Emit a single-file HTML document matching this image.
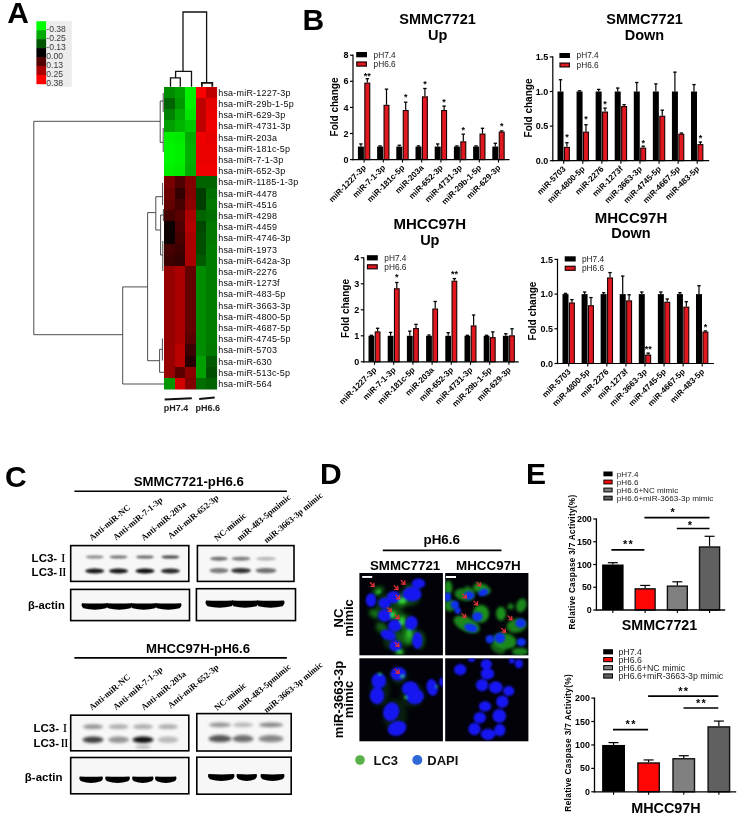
<!DOCTYPE html>
<html lang="en"><head><meta charset="utf-8"><title>Figure</title>
<style>
html,body{margin:0;padding:0;background:#fff;}
body{width:742px;height:824px;overflow:hidden;}
svg{display:block;font-family:"Liberation Sans", Arial, sans-serif;filter:blur(0.35px);}
</style></head><body>
<svg width="742" height="824" viewBox="0 0 742 824">
<defs>
<filter id="b04" x="-5%" y="-5%" width="110%" height="110%"><feGaussianBlur stdDeviation="0.45"/></filter>
<filter id="b05" x="-50%" y="-50%" width="200%" height="200%"><feGaussianBlur stdDeviation="0.65"/></filter>
<filter id="b07" x="-30%" y="-100%" width="160%" height="300%"><feGaussianBlur stdDeviation="0.7"/></filter>
<filter id="b1" x="-30%" y="-150%" width="160%" height="400%"><feGaussianBlur stdDeviation="1.1"/></filter>
<filter id="b15" x="-30%" y="-150%" width="160%" height="400%"><feGaussianBlur stdDeviation="1.5"/></filter>
<filter id="b12" x="-10%" y="-10%" width="120%" height="120%"><feGaussianBlur stdDeviation="1.1"/></filter>
<filter id="b18" x="-20%" y="-20%" width="140%" height="140%"><feGaussianBlur stdDeviation="1.7"/></filter>
<filter id="b25" x="-20%" y="-20%" width="140%" height="140%"><feGaussianBlur stdDeviation="2.2"/></filter>
<clipPath id="cHM"><rect x="164" y="86.6" width="53.1" height="302.8"/></clipPath>
<clipPath id="cTL"><rect x="359.4" y="573" width="83.5" height="82.3"/></clipPath>
<clipPath id="cTR"><rect x="445.2" y="573" width="83.2" height="82.3"/></clipPath>
<clipPath id="cBL"><rect x="359.4" y="658.3" width="83.5" height="83"/></clipPath>
<clipPath id="cBR"><rect x="445.2" y="658.3" width="83.2" height="83"/></clipPath>
<clipPath id="cC1"><rect x="71.4" y="546.3" width="116.7" height="34.4"/><rect x="198.1" y="546.3" width="95.2" height="34.4"/><rect x="71.4" y="590.1" width="117.4" height="29.8"/><rect x="197.1" y="589.4" width="97.7" height="30.5"/></clipPath>
<clipPath id="cC2"><rect x="71.4" y="715.9" width="116.7" height="34.2"/><rect x="197.5" y="714.3" width="93" height="36"/><rect x="71.4" y="758.2" width="116.7" height="34.9"/><rect x="197.5" y="757.9" width="93" height="35.6"/></clipPath>
</defs>
<rect width="742" height="824" fill="#fff"/>
<g id="panelA">
<text x="7.20" y="23.30" font-size="30" font-weight="bold" text-anchor="start" fill="#000">A</text>
<rect x="46.10" y="21.20" width="25.70" height="65.70" fill="#ececec"/>
<rect x="36.40" y="21.20" width="9.70" height="9.26" fill="#00ff00"/>
<rect x="36.40" y="30.16" width="9.70" height="9.26" fill="#00aa00"/>
<rect x="36.40" y="39.12" width="9.70" height="9.26" fill="#005500"/>
<rect x="36.40" y="48.08" width="9.70" height="9.26" fill="#000000"/>
<rect x="36.40" y="57.04" width="9.70" height="9.26" fill="#550000"/>
<rect x="36.40" y="66.00" width="9.70" height="9.26" fill="#aa0000"/>
<rect x="36.40" y="74.96" width="9.70" height="9.26" fill="#ff0000"/>
<text x="46.30" y="32.30" font-size="8.6" font-weight="normal" text-anchor="start" fill="#3a3a3a">-0.38</text>
<text x="46.30" y="41.30" font-size="8.6" font-weight="normal" text-anchor="start" fill="#3a3a3a">-0.25</text>
<text x="46.30" y="50.30" font-size="8.6" font-weight="normal" text-anchor="start" fill="#3a3a3a">-0.13</text>
<text x="46.30" y="59.30" font-size="8.6" font-weight="normal" text-anchor="start" fill="#3a3a3a">0.00</text>
<text x="46.30" y="68.30" font-size="8.6" font-weight="normal" text-anchor="start" fill="#3a3a3a">0.13</text>
<text x="46.30" y="77.30" font-size="8.6" font-weight="normal" text-anchor="start" fill="#3a3a3a">0.25</text>
<text x="46.30" y="86.30" font-size="8.6" font-weight="normal" text-anchor="start" fill="#3a3a3a">0.38</text>
<g clip-path="url(#cHM)"><g filter="url(#b04)" shape-rendering="crispEdges">
<rect x="164.20" y="86.80" width="11.36" height="12.00" fill="rgb(0,140,0)"/>
<rect x="174.76" y="86.80" width="11.36" height="12.00" fill="rgb(0,160,0)"/>
<rect x="185.32" y="86.80" width="11.36" height="12.00" fill="rgb(0,240,0)"/>
<rect x="195.88" y="86.80" width="11.36" height="12.00" fill="rgb(250,0,0)"/>
<rect x="206.44" y="86.80" width="11.36" height="12.00" fill="rgb(190,0,0)"/>
<rect x="164.20" y="98.00" width="11.36" height="12.00" fill="rgb(0,100,0)"/>
<rect x="174.76" y="98.00" width="11.36" height="12.00" fill="rgb(0,150,0)"/>
<rect x="185.32" y="98.00" width="11.36" height="12.00" fill="rgb(0,240,0)"/>
<rect x="195.88" y="98.00" width="11.36" height="12.00" fill="rgb(190,0,0)"/>
<rect x="206.44" y="98.00" width="11.36" height="12.00" fill="rgb(230,0,0)"/>
<rect x="164.20" y="109.21" width="11.36" height="12.00" fill="rgb(0,130,0)"/>
<rect x="174.76" y="109.21" width="11.36" height="12.00" fill="rgb(0,170,0)"/>
<rect x="185.32" y="109.21" width="11.36" height="12.00" fill="rgb(0,230,0)"/>
<rect x="195.88" y="109.21" width="11.36" height="12.00" fill="rgb(190,0,0)"/>
<rect x="206.44" y="109.21" width="11.36" height="12.00" fill="rgb(235,0,0)"/>
<rect x="164.20" y="120.41" width="11.36" height="12.00" fill="rgb(0,160,0)"/>
<rect x="174.76" y="120.41" width="11.36" height="12.00" fill="rgb(0,180,0)"/>
<rect x="185.32" y="120.41" width="11.36" height="12.00" fill="rgb(0,200,0)"/>
<rect x="195.88" y="120.41" width="11.36" height="12.00" fill="rgb(190,0,0)"/>
<rect x="206.44" y="120.41" width="11.36" height="12.00" fill="rgb(240,0,0)"/>
<rect x="164.20" y="131.62" width="11.36" height="12.00" fill="rgb(0,240,0)"/>
<rect x="174.76" y="131.62" width="11.36" height="12.00" fill="rgb(0,235,0)"/>
<rect x="185.32" y="131.62" width="11.36" height="12.00" fill="rgb(0,170,0)"/>
<rect x="195.88" y="131.62" width="11.36" height="12.00" fill="rgb(240,0,0)"/>
<rect x="206.44" y="131.62" width="11.36" height="12.00" fill="rgb(230,0,0)"/>
<rect x="164.20" y="142.82" width="11.36" height="12.00" fill="rgb(0,245,0)"/>
<rect x="174.76" y="142.82" width="11.36" height="12.00" fill="rgb(0,240,0)"/>
<rect x="185.32" y="142.82" width="11.36" height="12.00" fill="rgb(0,175,0)"/>
<rect x="195.88" y="142.82" width="11.36" height="12.00" fill="rgb(235,0,0)"/>
<rect x="206.44" y="142.82" width="11.36" height="12.00" fill="rgb(235,0,0)"/>
<rect x="164.20" y="154.02" width="11.36" height="12.00" fill="rgb(0,245,0)"/>
<rect x="174.76" y="154.02" width="11.36" height="12.00" fill="rgb(0,240,0)"/>
<rect x="185.32" y="154.02" width="11.36" height="12.00" fill="rgb(0,175,0)"/>
<rect x="195.88" y="154.02" width="11.36" height="12.00" fill="rgb(235,0,0)"/>
<rect x="206.44" y="154.02" width="11.36" height="12.00" fill="rgb(235,0,0)"/>
<rect x="164.20" y="165.23" width="11.36" height="12.00" fill="rgb(0,240,0)"/>
<rect x="174.76" y="165.23" width="11.36" height="12.00" fill="rgb(0,235,0)"/>
<rect x="185.32" y="165.23" width="11.36" height="12.00" fill="rgb(0,170,0)"/>
<rect x="195.88" y="165.23" width="11.36" height="12.00" fill="rgb(240,0,0)"/>
<rect x="206.44" y="165.23" width="11.36" height="12.00" fill="rgb(240,0,0)"/>
<rect x="164.20" y="176.43" width="11.36" height="12.00" fill="rgb(120,0,0)"/>
<rect x="174.76" y="176.43" width="11.36" height="12.00" fill="rgb(80,0,0)"/>
<rect x="185.32" y="176.43" width="11.36" height="12.00" fill="rgb(130,0,0)"/>
<rect x="195.88" y="176.43" width="11.36" height="12.00" fill="rgb(0,100,0)"/>
<rect x="206.44" y="176.43" width="11.36" height="12.00" fill="rgb(0,100,0)"/>
<rect x="164.20" y="187.64" width="11.36" height="12.00" fill="rgb(110,0,0)"/>
<rect x="174.76" y="187.64" width="11.36" height="12.00" fill="rgb(50,0,0)"/>
<rect x="185.32" y="187.64" width="11.36" height="12.00" fill="rgb(130,0,0)"/>
<rect x="195.88" y="187.64" width="11.36" height="12.00" fill="rgb(0,60,0)"/>
<rect x="206.44" y="187.64" width="11.36" height="12.00" fill="rgb(0,110,0)"/>
<rect x="164.20" y="198.84" width="11.36" height="12.00" fill="rgb(100,0,0)"/>
<rect x="174.76" y="198.84" width="11.36" height="12.00" fill="rgb(70,0,0)"/>
<rect x="185.32" y="198.84" width="11.36" height="12.00" fill="rgb(140,0,0)"/>
<rect x="195.88" y="198.84" width="11.36" height="12.00" fill="rgb(0,60,0)"/>
<rect x="206.44" y="198.84" width="11.36" height="12.00" fill="rgb(0,120,0)"/>
<rect x="164.20" y="210.04" width="11.36" height="12.00" fill="rgb(70,0,0)"/>
<rect x="174.76" y="210.04" width="11.36" height="12.00" fill="rgb(90,0,0)"/>
<rect x="185.32" y="210.04" width="11.36" height="12.00" fill="rgb(170,0,0)"/>
<rect x="195.88" y="210.04" width="11.36" height="12.00" fill="rgb(0,100,0)"/>
<rect x="206.44" y="210.04" width="11.36" height="12.00" fill="rgb(0,110,0)"/>
<rect x="164.20" y="221.25" width="11.36" height="12.00" fill="rgb(12,0,0)"/>
<rect x="174.76" y="221.25" width="11.36" height="12.00" fill="rgb(80,0,0)"/>
<rect x="185.32" y="221.25" width="11.36" height="12.00" fill="rgb(180,0,0)"/>
<rect x="195.88" y="221.25" width="11.36" height="12.00" fill="rgb(0,70,0)"/>
<rect x="206.44" y="221.25" width="11.36" height="12.00" fill="rgb(0,120,0)"/>
<rect x="164.20" y="232.45" width="11.36" height="12.00" fill="rgb(8,0,0)"/>
<rect x="174.76" y="232.45" width="11.36" height="12.00" fill="rgb(70,0,0)"/>
<rect x="185.32" y="232.45" width="11.36" height="12.00" fill="rgb(170,0,0)"/>
<rect x="195.88" y="232.45" width="11.36" height="12.00" fill="rgb(0,80,0)"/>
<rect x="206.44" y="232.45" width="11.36" height="12.00" fill="rgb(0,120,0)"/>
<rect x="164.20" y="243.66" width="11.36" height="12.00" fill="rgb(70,0,0)"/>
<rect x="174.76" y="243.66" width="11.36" height="12.00" fill="rgb(60,0,0)"/>
<rect x="185.32" y="243.66" width="11.36" height="12.00" fill="rgb(170,0,0)"/>
<rect x="195.88" y="243.66" width="11.36" height="12.00" fill="rgb(0,80,0)"/>
<rect x="206.44" y="243.66" width="11.36" height="12.00" fill="rgb(0,125,0)"/>
<rect x="164.20" y="254.86" width="11.36" height="12.00" fill="rgb(60,0,0)"/>
<rect x="174.76" y="254.86" width="11.36" height="12.00" fill="rgb(50,0,0)"/>
<rect x="185.32" y="254.86" width="11.36" height="12.00" fill="rgb(170,0,0)"/>
<rect x="195.88" y="254.86" width="11.36" height="12.00" fill="rgb(0,90,0)"/>
<rect x="206.44" y="254.86" width="11.36" height="12.00" fill="rgb(0,125,0)"/>
<rect x="164.20" y="266.06" width="11.36" height="12.00" fill="rgb(150,0,0)"/>
<rect x="174.76" y="266.06" width="11.36" height="12.00" fill="rgb(170,0,0)"/>
<rect x="185.32" y="266.06" width="11.36" height="12.00" fill="rgb(100,0,0)"/>
<rect x="195.88" y="266.06" width="11.36" height="12.00" fill="rgb(0,140,0)"/>
<rect x="206.44" y="266.06" width="11.36" height="12.00" fill="rgb(0,125,0)"/>
<rect x="164.20" y="277.27" width="11.36" height="12.00" fill="rgb(150,0,0)"/>
<rect x="174.76" y="277.27" width="11.36" height="12.00" fill="rgb(170,0,0)"/>
<rect x="185.32" y="277.27" width="11.36" height="12.00" fill="rgb(100,0,0)"/>
<rect x="195.88" y="277.27" width="11.36" height="12.00" fill="rgb(0,140,0)"/>
<rect x="206.44" y="277.27" width="11.36" height="12.00" fill="rgb(0,125,0)"/>
<rect x="164.20" y="288.47" width="11.36" height="12.00" fill="rgb(150,0,0)"/>
<rect x="174.76" y="288.47" width="11.36" height="12.00" fill="rgb(170,0,0)"/>
<rect x="185.32" y="288.47" width="11.36" height="12.00" fill="rgb(100,0,0)"/>
<rect x="195.88" y="288.47" width="11.36" height="12.00" fill="rgb(0,140,0)"/>
<rect x="206.44" y="288.47" width="11.36" height="12.00" fill="rgb(0,125,0)"/>
<rect x="164.20" y="299.68" width="11.36" height="12.00" fill="rgb(150,0,0)"/>
<rect x="174.76" y="299.68" width="11.36" height="12.00" fill="rgb(170,0,0)"/>
<rect x="185.32" y="299.68" width="11.36" height="12.00" fill="rgb(100,0,0)"/>
<rect x="195.88" y="299.68" width="11.36" height="12.00" fill="rgb(0,140,0)"/>
<rect x="206.44" y="299.68" width="11.36" height="12.00" fill="rgb(0,125,0)"/>
<rect x="164.20" y="310.88" width="11.36" height="12.00" fill="rgb(150,0,0)"/>
<rect x="174.76" y="310.88" width="11.36" height="12.00" fill="rgb(170,0,0)"/>
<rect x="185.32" y="310.88" width="11.36" height="12.00" fill="rgb(100,0,0)"/>
<rect x="195.88" y="310.88" width="11.36" height="12.00" fill="rgb(0,140,0)"/>
<rect x="206.44" y="310.88" width="11.36" height="12.00" fill="rgb(0,125,0)"/>
<rect x="164.20" y="322.08" width="11.36" height="12.00" fill="rgb(150,0,0)"/>
<rect x="174.76" y="322.08" width="11.36" height="12.00" fill="rgb(170,0,0)"/>
<rect x="185.32" y="322.08" width="11.36" height="12.00" fill="rgb(100,0,0)"/>
<rect x="195.88" y="322.08" width="11.36" height="12.00" fill="rgb(0,140,0)"/>
<rect x="206.44" y="322.08" width="11.36" height="12.00" fill="rgb(0,125,0)"/>
<rect x="164.20" y="333.29" width="11.36" height="12.00" fill="rgb(150,0,0)"/>
<rect x="174.76" y="333.29" width="11.36" height="12.00" fill="rgb(170,0,0)"/>
<rect x="185.32" y="333.29" width="11.36" height="12.00" fill="rgb(90,0,0)"/>
<rect x="195.88" y="333.29" width="11.36" height="12.00" fill="rgb(0,140,0)"/>
<rect x="206.44" y="333.29" width="11.36" height="12.00" fill="rgb(0,125,0)"/>
<rect x="164.20" y="344.49" width="11.36" height="12.00" fill="rgb(150,0,0)"/>
<rect x="174.76" y="344.49" width="11.36" height="12.00" fill="rgb(185,0,0)"/>
<rect x="185.32" y="344.49" width="11.36" height="12.00" fill="rgb(60,0,0)"/>
<rect x="195.88" y="344.49" width="11.36" height="12.00" fill="rgb(0,140,0)"/>
<rect x="206.44" y="344.49" width="11.36" height="12.00" fill="rgb(0,120,0)"/>
<rect x="164.20" y="355.70" width="11.36" height="12.00" fill="rgb(150,0,0)"/>
<rect x="174.76" y="355.70" width="11.36" height="12.00" fill="rgb(185,0,0)"/>
<rect x="185.32" y="355.70" width="11.36" height="12.00" fill="rgb(40,0,0)"/>
<rect x="195.88" y="355.70" width="11.36" height="12.00" fill="rgb(0,160,0)"/>
<rect x="206.44" y="355.70" width="11.36" height="12.00" fill="rgb(0,90,0)"/>
<rect x="164.20" y="366.90" width="11.36" height="12.00" fill="rgb(150,0,0)"/>
<rect x="174.76" y="366.90" width="11.36" height="12.00" fill="rgb(90,0,0)"/>
<rect x="185.32" y="366.90" width="11.36" height="12.00" fill="rgb(140,0,0)"/>
<rect x="195.88" y="366.90" width="11.36" height="12.00" fill="rgb(0,160,0)"/>
<rect x="206.44" y="366.90" width="11.36" height="12.00" fill="rgb(0,80,0)"/>
<rect x="164.20" y="378.10" width="11.36" height="12.00" fill="rgb(0,150,0)"/>
<rect x="174.76" y="378.10" width="11.36" height="12.00" fill="rgb(210,0,0)"/>
<rect x="185.32" y="378.10" width="11.36" height="12.00" fill="rgb(130,0,0)"/>
<rect x="195.88" y="378.10" width="11.36" height="12.00" fill="rgb(0,110,0)"/>
<rect x="206.44" y="378.10" width="11.36" height="12.00" fill="rgb(0,100,0)"/>
</g></g>
<text x="218.20" y="95.70" font-size="9" font-weight="normal" text-anchor="start" fill="#0a0a0a" letter-spacing="0.2">hsa-miR-1227-3p</text>
<text x="218.20" y="106.90" font-size="9" font-weight="normal" text-anchor="start" fill="#0a0a0a" letter-spacing="0.2">hsa-miR-29b-1-5p</text>
<text x="218.20" y="118.11" font-size="9" font-weight="normal" text-anchor="start" fill="#0a0a0a" letter-spacing="0.2">hsa-miR-629-3p</text>
<text x="218.20" y="129.31" font-size="9" font-weight="normal" text-anchor="start" fill="#0a0a0a" letter-spacing="0.2">hsa-miR-4731-3p</text>
<text x="218.20" y="140.52" font-size="9" font-weight="normal" text-anchor="start" fill="#0a0a0a" letter-spacing="0.2">hsa-miR-203a</text>
<text x="218.20" y="151.72" font-size="9" font-weight="normal" text-anchor="start" fill="#0a0a0a" letter-spacing="0.2">hsa-miR-181c-5p</text>
<text x="218.20" y="162.92" font-size="9" font-weight="normal" text-anchor="start" fill="#0a0a0a" letter-spacing="0.2">hsa-miR-7-1-3p</text>
<text x="218.20" y="174.13" font-size="9" font-weight="normal" text-anchor="start" fill="#0a0a0a" letter-spacing="0.2">hsa-miR-652-3p</text>
<text x="218.20" y="185.33" font-size="9" font-weight="normal" text-anchor="start" fill="#0a0a0a" letter-spacing="0.2">hsa-miR-1185-1-3p</text>
<text x="218.20" y="196.54" font-size="9" font-weight="normal" text-anchor="start" fill="#0a0a0a" letter-spacing="0.2">hsa-miR-4478</text>
<text x="218.20" y="207.74" font-size="9" font-weight="normal" text-anchor="start" fill="#0a0a0a" letter-spacing="0.2">hsa-miR-4516</text>
<text x="218.20" y="218.94" font-size="9" font-weight="normal" text-anchor="start" fill="#0a0a0a" letter-spacing="0.2">hsa-miR-4298</text>
<text x="218.20" y="230.15" font-size="9" font-weight="normal" text-anchor="start" fill="#0a0a0a" letter-spacing="0.2">hsa-miR-4459</text>
<text x="218.20" y="241.35" font-size="9" font-weight="normal" text-anchor="start" fill="#0a0a0a" letter-spacing="0.2">hsa-miR-4746-3p</text>
<text x="218.20" y="252.56" font-size="9" font-weight="normal" text-anchor="start" fill="#0a0a0a" letter-spacing="0.2">hsa-miR-1973</text>
<text x="218.20" y="263.76" font-size="9" font-weight="normal" text-anchor="start" fill="#0a0a0a" letter-spacing="0.2">hsa-miR-642a-3p</text>
<text x="218.20" y="274.96" font-size="9" font-weight="normal" text-anchor="start" fill="#0a0a0a" letter-spacing="0.2">hsa-miR-2276</text>
<text x="218.20" y="286.17" font-size="9" font-weight="normal" text-anchor="start" fill="#0a0a0a" letter-spacing="0.2">hsa-miR-1273f</text>
<text x="218.20" y="297.37" font-size="9" font-weight="normal" text-anchor="start" fill="#0a0a0a" letter-spacing="0.2">hsa-miR-483-5p</text>
<text x="218.20" y="308.58" font-size="9" font-weight="normal" text-anchor="start" fill="#0a0a0a" letter-spacing="0.2">hsa-miR-3663-3p</text>
<text x="218.20" y="319.78" font-size="9" font-weight="normal" text-anchor="start" fill="#0a0a0a" letter-spacing="0.2">hsa-miR-4800-5p</text>
<text x="218.20" y="330.98" font-size="9" font-weight="normal" text-anchor="start" fill="#0a0a0a" letter-spacing="0.2">hsa-miR-4687-5p</text>
<text x="218.20" y="342.19" font-size="9" font-weight="normal" text-anchor="start" fill="#0a0a0a" letter-spacing="0.2">hsa-miR-4745-5p</text>
<text x="218.20" y="353.39" font-size="9" font-weight="normal" text-anchor="start" fill="#0a0a0a" letter-spacing="0.2">hsa-miR-5703</text>
<text x="218.20" y="364.60" font-size="9" font-weight="normal" text-anchor="start" fill="#0a0a0a" letter-spacing="0.2">hsa-miR-630</text>
<text x="218.20" y="375.80" font-size="9" font-weight="normal" text-anchor="start" fill="#0a0a0a" letter-spacing="0.2">hsa-miR-513c-5p</text>
<text x="218.20" y="387.00" font-size="9" font-weight="normal" text-anchor="start" fill="#0a0a0a" letter-spacing="0.2">hsa-miR-564</text>
<path d="M183 71.3V12H206.6V82.3 M175.6 77.8V71.3H191.5V86.8 M170.5 86.8V77.8H180.3V86.8" fill="none" stroke="#111" stroke-width="1.3"/>
<path d="M201.9 86.8V82.8H212.3V86.8" fill="none" stroke="#111" stroke-width="1.8"/>
<path d="M160.2 121.3H33.8V334.7H122.7 M122.7 286.9V384H164.2 M122.7 286.9H147.6 M147.6 212.6V360.7 M160.2 101V142.4 M160.2 101H163.2 M160.2 142.4H163.2 M163.2 93V112 M163.2 128V152 M147.6 212.6H155.8 M155.8 196.7V230 M155.8 196.7H162.6 M162.6 183V205 M155.8 230H160.6 M160.6 215V255 M160.6 215H163.4 M160.6 255H162.8 M162.8 241V271 M163.4 209V221 M147.6 360.7H159.6 M159.6 349.3V372.3H164.2 M159.6 349.3H162.4 M162.4 338.5V360.5" fill="none" stroke="#3a3a3a" stroke-width="0.9"/>
<path d="M164.6 399.6L191.8 398.2" stroke="#111" stroke-width="2" fill="none"/>
<path d="M199.2 398.9L214.7 397.5" stroke="#111" stroke-width="2" fill="none"/>
<text x="163.70" y="411.00" font-size="9" font-weight="bold" text-anchor="start" fill="#222">pH7.4</text>
<text x="195.60" y="411.00" font-size="9" font-weight="bold" text-anchor="start" fill="#222">pH6.6</text>
</g>
<g id="panelB">
<text x="302.60" y="29.50" font-size="30" font-weight="bold" text-anchor="start" fill="#000">B</text>
<text x="437.60" y="24.20" font-size="14.5" font-weight="bold" text-anchor="middle" fill="#000">SMMC7721</text>
<text x="437.60" y="40.30" font-size="14.5" font-weight="bold" text-anchor="middle" fill="#000">Up</text>
<line x1="360.90" y1="146.55" x2="360.90" y2="143.94" stroke="#000" stroke-width="1.2"/>
<line x1="359.20" y1="143.94" x2="362.60" y2="143.94" stroke="#000" stroke-width="1.3"/>
<rect x="357.90" y="146.55" width="6.00" height="13.05" fill="#000"/>
<line x1="367.30" y1="82.60" x2="367.30" y2="78.69" stroke="#000" stroke-width="1.2"/>
<line x1="365.60" y1="78.69" x2="369.00" y2="78.69" stroke="#000" stroke-width="1.3"/>
<rect x="364.85" y="83.15" width="4.90" height="76.45" fill="#e01820" stroke="#1a0000" stroke-width="1.1"/>
<line x1="380.10" y1="146.55" x2="380.10" y2="145.90" stroke="#000" stroke-width="1.2"/>
<line x1="378.40" y1="145.90" x2="381.80" y2="145.90" stroke="#000" stroke-width="1.3"/>
<rect x="377.10" y="146.55" width="6.00" height="13.05" fill="#000"/>
<line x1="386.50" y1="104.79" x2="386.50" y2="89.13" stroke="#000" stroke-width="1.2"/>
<line x1="384.80" y1="89.13" x2="388.20" y2="89.13" stroke="#000" stroke-width="1.3"/>
<rect x="384.05" y="105.34" width="4.90" height="54.26" fill="#e01820" stroke="#1a0000" stroke-width="1.1"/>
<line x1="399.30" y1="146.55" x2="399.30" y2="145.25" stroke="#000" stroke-width="1.2"/>
<line x1="397.60" y1="145.25" x2="401.00" y2="145.25" stroke="#000" stroke-width="1.3"/>
<rect x="396.30" y="146.55" width="6.00" height="13.05" fill="#000"/>
<line x1="405.70" y1="110.01" x2="405.70" y2="102.18" stroke="#000" stroke-width="1.2"/>
<line x1="404.00" y1="102.18" x2="407.40" y2="102.18" stroke="#000" stroke-width="1.3"/>
<rect x="403.25" y="110.56" width="4.90" height="49.04" fill="#e01820" stroke="#1a0000" stroke-width="1.1"/>
<line x1="418.50" y1="146.55" x2="418.50" y2="145.90" stroke="#000" stroke-width="1.2"/>
<line x1="416.80" y1="145.90" x2="420.20" y2="145.90" stroke="#000" stroke-width="1.3"/>
<rect x="415.50" y="146.55" width="6.00" height="13.05" fill="#000"/>
<line x1="424.90" y1="96.31" x2="424.90" y2="88.48" stroke="#000" stroke-width="1.2"/>
<line x1="423.20" y1="88.48" x2="426.60" y2="88.48" stroke="#000" stroke-width="1.3"/>
<rect x="422.45" y="96.86" width="4.90" height="62.74" fill="#e01820" stroke="#1a0000" stroke-width="1.1"/>
<line x1="437.70" y1="146.55" x2="437.70" y2="143.94" stroke="#000" stroke-width="1.2"/>
<line x1="436.00" y1="143.94" x2="439.40" y2="143.94" stroke="#000" stroke-width="1.3"/>
<rect x="434.70" y="146.55" width="6.00" height="13.05" fill="#000"/>
<line x1="444.10" y1="110.01" x2="444.10" y2="106.09" stroke="#000" stroke-width="1.2"/>
<line x1="442.40" y1="106.09" x2="445.80" y2="106.09" stroke="#000" stroke-width="1.3"/>
<rect x="441.65" y="110.56" width="4.90" height="49.04" fill="#e01820" stroke="#1a0000" stroke-width="1.1"/>
<line x1="456.90" y1="146.55" x2="456.90" y2="145.90" stroke="#000" stroke-width="1.2"/>
<line x1="455.20" y1="145.90" x2="458.60" y2="145.90" stroke="#000" stroke-width="1.3"/>
<rect x="453.90" y="146.55" width="6.00" height="13.05" fill="#000"/>
<line x1="463.30" y1="141.33" x2="463.30" y2="134.15" stroke="#000" stroke-width="1.2"/>
<line x1="461.60" y1="134.15" x2="465.00" y2="134.15" stroke="#000" stroke-width="1.3"/>
<rect x="460.85" y="141.88" width="4.90" height="17.72" fill="#e01820" stroke="#1a0000" stroke-width="1.1"/>
<line x1="476.10" y1="146.55" x2="476.10" y2="145.90" stroke="#000" stroke-width="1.2"/>
<line x1="474.40" y1="145.90" x2="477.80" y2="145.90" stroke="#000" stroke-width="1.3"/>
<rect x="473.10" y="146.55" width="6.00" height="13.05" fill="#000"/>
<line x1="482.50" y1="133.50" x2="482.50" y2="128.28" stroke="#000" stroke-width="1.2"/>
<line x1="480.80" y1="128.28" x2="484.20" y2="128.28" stroke="#000" stroke-width="1.3"/>
<rect x="480.05" y="134.05" width="4.90" height="25.55" fill="#e01820" stroke="#1a0000" stroke-width="1.1"/>
<line x1="495.30" y1="146.55" x2="495.30" y2="143.29" stroke="#000" stroke-width="1.2"/>
<line x1="493.60" y1="143.29" x2="497.00" y2="143.29" stroke="#000" stroke-width="1.3"/>
<rect x="492.30" y="146.55" width="6.00" height="13.05" fill="#000"/>
<line x1="501.70" y1="131.54" x2="501.70" y2="130.89" stroke="#000" stroke-width="1.2"/>
<line x1="500.00" y1="130.89" x2="503.40" y2="130.89" stroke="#000" stroke-width="1.3"/>
<rect x="499.25" y="132.09" width="4.90" height="27.51" fill="#e01820" stroke="#1a0000" stroke-width="1.1"/>
<line x1="353.00" y1="54.60" x2="353.00" y2="160.20" stroke="#000" stroke-width="1.2"/>
<line x1="352.40" y1="159.60" x2="509.50" y2="159.60" stroke="#000" stroke-width="1.2"/>
<line x1="350.00" y1="159.60" x2="353.00" y2="159.60" stroke="#000" stroke-width="1.2"/>
<text x="348.40" y="162.70" font-size="9" font-weight="bold" text-anchor="end" fill="#000">0</text>
<line x1="350.00" y1="133.50" x2="353.00" y2="133.50" stroke="#000" stroke-width="1.2"/>
<text x="348.40" y="136.60" font-size="9" font-weight="bold" text-anchor="end" fill="#000">2</text>
<line x1="350.00" y1="107.40" x2="353.00" y2="107.40" stroke="#000" stroke-width="1.2"/>
<text x="348.40" y="110.50" font-size="9" font-weight="bold" text-anchor="end" fill="#000">4</text>
<line x1="350.00" y1="81.30" x2="353.00" y2="81.30" stroke="#000" stroke-width="1.2"/>
<text x="348.40" y="84.40" font-size="9" font-weight="bold" text-anchor="end" fill="#000">6</text>
<line x1="350.00" y1="55.20" x2="353.00" y2="55.20" stroke="#000" stroke-width="1.2"/>
<text x="348.40" y="58.30" font-size="9" font-weight="bold" text-anchor="end" fill="#000">8</text>
<line x1="364.10" y1="159.60" x2="364.10" y2="162.60" stroke="#000" stroke-width="1.1"/>
<text x="366.60" y="168.30" font-size="8.2" font-weight="bold" text-anchor="end" fill="#000" transform="rotate(-45 366.60 168.30)">miR-1227-3p</text>
<line x1="383.30" y1="159.60" x2="383.30" y2="162.60" stroke="#000" stroke-width="1.1"/>
<text x="385.80" y="168.30" font-size="8.2" font-weight="bold" text-anchor="end" fill="#000" transform="rotate(-45 385.80 168.30)">miR-7-1-3p</text>
<line x1="402.50" y1="159.60" x2="402.50" y2="162.60" stroke="#000" stroke-width="1.1"/>
<text x="405.00" y="168.30" font-size="8.2" font-weight="bold" text-anchor="end" fill="#000" transform="rotate(-45 405.00 168.30)">miR-181c-5p</text>
<line x1="421.70" y1="159.60" x2="421.70" y2="162.60" stroke="#000" stroke-width="1.1"/>
<text x="424.20" y="168.30" font-size="8.2" font-weight="bold" text-anchor="end" fill="#000" transform="rotate(-45 424.20 168.30)">miR-203a</text>
<line x1="440.90" y1="159.60" x2="440.90" y2="162.60" stroke="#000" stroke-width="1.1"/>
<text x="443.40" y="168.30" font-size="8.2" font-weight="bold" text-anchor="end" fill="#000" transform="rotate(-45 443.40 168.30)">miR-652-3p</text>
<line x1="460.10" y1="159.60" x2="460.10" y2="162.60" stroke="#000" stroke-width="1.1"/>
<text x="462.60" y="168.30" font-size="8.2" font-weight="bold" text-anchor="end" fill="#000" transform="rotate(-45 462.60 168.30)">miR-4731-3p</text>
<line x1="479.30" y1="159.60" x2="479.30" y2="162.60" stroke="#000" stroke-width="1.1"/>
<text x="481.80" y="168.30" font-size="8.2" font-weight="bold" text-anchor="end" fill="#000" transform="rotate(-45 481.80 168.30)">miR-29b-1-5p</text>
<line x1="498.50" y1="159.60" x2="498.50" y2="162.60" stroke="#000" stroke-width="1.1"/>
<text x="501.00" y="168.30" font-size="8.2" font-weight="bold" text-anchor="end" fill="#000" transform="rotate(-45 501.00 168.30)">miR-629-3p</text>
<text x="367.30" y="78.50" font-size="9" font-weight="bold" text-anchor="middle" fill="#000">**</text>
<text x="405.70" y="99.50" font-size="9" font-weight="bold" text-anchor="middle" fill="#000">*</text>
<text x="424.90" y="86.50" font-size="9" font-weight="bold" text-anchor="middle" fill="#000">*</text>
<text x="444.10" y="105.20" font-size="9" font-weight="bold" text-anchor="middle" fill="#000">*</text>
<text x="463.30" y="133.10" font-size="9" font-weight="bold" text-anchor="middle" fill="#000">*</text>
<text x="501.70" y="129.00" font-size="9" font-weight="bold" text-anchor="middle" fill="#000">*</text>
<rect x="356.20" y="52.00" width="10.80" height="5.30" fill="#000"/>
<rect x="356.80" y="62.00" width="9.60" height="4.10" fill="#e01820" stroke="#1a0000" stroke-width="1.2"/>
<text x="373.60" y="57.55" font-size="8.3" font-weight="normal" text-anchor="start" fill="#222">pH7.4</text>
<text x="373.60" y="66.95" font-size="8.3" font-weight="normal" text-anchor="start" fill="#222">pH6.6</text>
<text x="338.00" y="107.00" font-size="10" font-weight="bold" text-anchor="middle" fill="#000" transform="rotate(-90 338.00 107.00)">Fold change</text>
<text x="644.50" y="24.40" font-size="14.5" font-weight="bold" text-anchor="middle" fill="#000">SMMC7721</text>
<text x="644.50" y="39.70" font-size="14.5" font-weight="bold" text-anchor="middle" fill="#000">Down</text>
<line x1="560.50" y1="91.50" x2="560.50" y2="79.74" stroke="#000" stroke-width="1.2"/>
<line x1="558.80" y1="79.74" x2="562.20" y2="79.74" stroke="#000" stroke-width="1.3"/>
<rect x="557.50" y="91.50" width="6.00" height="69.20" fill="#000"/>
<line x1="566.90" y1="146.86" x2="566.90" y2="142.71" stroke="#000" stroke-width="1.2"/>
<line x1="565.20" y1="142.71" x2="568.60" y2="142.71" stroke="#000" stroke-width="1.3"/>
<rect x="564.45" y="147.41" width="4.90" height="13.29" fill="#e01820" stroke="#1a0000" stroke-width="1.1"/>
<line x1="579.57" y1="91.50" x2="579.57" y2="90.81" stroke="#000" stroke-width="1.2"/>
<line x1="577.87" y1="90.81" x2="581.27" y2="90.81" stroke="#000" stroke-width="1.3"/>
<rect x="576.57" y="91.50" width="6.00" height="69.20" fill="#000"/>
<line x1="585.97" y1="131.64" x2="585.97" y2="124.72" stroke="#000" stroke-width="1.2"/>
<line x1="584.27" y1="124.72" x2="587.67" y2="124.72" stroke="#000" stroke-width="1.3"/>
<rect x="583.52" y="132.19" width="4.90" height="28.51" fill="#e01820" stroke="#1a0000" stroke-width="1.1"/>
<line x1="598.64" y1="91.50" x2="598.64" y2="89.42" stroke="#000" stroke-width="1.2"/>
<line x1="596.94" y1="89.42" x2="600.34" y2="89.42" stroke="#000" stroke-width="1.3"/>
<rect x="595.64" y="91.50" width="6.00" height="69.20" fill="#000"/>
<line x1="605.04" y1="111.57" x2="605.04" y2="108.11" stroke="#000" stroke-width="1.2"/>
<line x1="603.34" y1="108.11" x2="606.74" y2="108.11" stroke="#000" stroke-width="1.3"/>
<rect x="602.59" y="112.12" width="4.90" height="48.58" fill="#e01820" stroke="#1a0000" stroke-width="1.1"/>
<line x1="617.71" y1="91.50" x2="617.71" y2="88.04" stroke="#000" stroke-width="1.2"/>
<line x1="616.01" y1="88.04" x2="619.41" y2="88.04" stroke="#000" stroke-width="1.3"/>
<rect x="614.71" y="91.50" width="6.00" height="69.20" fill="#000"/>
<line x1="624.11" y1="106.03" x2="624.11" y2="104.65" stroke="#000" stroke-width="1.2"/>
<line x1="622.41" y1="104.65" x2="625.81" y2="104.65" stroke="#000" stroke-width="1.3"/>
<rect x="621.66" y="106.58" width="4.90" height="54.12" fill="#e01820" stroke="#1a0000" stroke-width="1.1"/>
<line x1="636.78" y1="91.50" x2="636.78" y2="82.50" stroke="#000" stroke-width="1.2"/>
<line x1="635.08" y1="82.50" x2="638.48" y2="82.50" stroke="#000" stroke-width="1.3"/>
<rect x="633.78" y="91.50" width="6.00" height="69.20" fill="#000"/>
<line x1="643.18" y1="147.55" x2="643.18" y2="146.17" stroke="#000" stroke-width="1.2"/>
<line x1="641.48" y1="146.17" x2="644.88" y2="146.17" stroke="#000" stroke-width="1.3"/>
<rect x="640.73" y="148.10" width="4.90" height="12.60" fill="#e01820" stroke="#1a0000" stroke-width="1.1"/>
<line x1="655.85" y1="91.50" x2="655.85" y2="83.89" stroke="#000" stroke-width="1.2"/>
<line x1="654.15" y1="83.89" x2="657.55" y2="83.89" stroke="#000" stroke-width="1.3"/>
<rect x="652.85" y="91.50" width="6.00" height="69.20" fill="#000"/>
<line x1="662.25" y1="115.72" x2="662.25" y2="110.18" stroke="#000" stroke-width="1.2"/>
<line x1="660.55" y1="110.18" x2="663.95" y2="110.18" stroke="#000" stroke-width="1.3"/>
<rect x="659.80" y="116.27" width="4.90" height="44.43" fill="#e01820" stroke="#1a0000" stroke-width="1.1"/>
<line x1="674.92" y1="91.50" x2="674.92" y2="72.12" stroke="#000" stroke-width="1.2"/>
<line x1="673.22" y1="72.12" x2="676.62" y2="72.12" stroke="#000" stroke-width="1.3"/>
<rect x="671.92" y="91.50" width="6.00" height="69.20" fill="#000"/>
<line x1="681.32" y1="133.71" x2="681.32" y2="133.02" stroke="#000" stroke-width="1.2"/>
<line x1="679.62" y1="133.02" x2="683.02" y2="133.02" stroke="#000" stroke-width="1.3"/>
<rect x="678.87" y="134.26" width="4.90" height="26.44" fill="#e01820" stroke="#1a0000" stroke-width="1.1"/>
<line x1="693.99" y1="91.50" x2="693.99" y2="84.58" stroke="#000" stroke-width="1.2"/>
<line x1="692.29" y1="84.58" x2="695.69" y2="84.58" stroke="#000" stroke-width="1.3"/>
<rect x="690.99" y="91.50" width="6.00" height="69.20" fill="#000"/>
<line x1="700.39" y1="144.09" x2="700.39" y2="142.02" stroke="#000" stroke-width="1.2"/>
<line x1="698.69" y1="142.02" x2="702.09" y2="142.02" stroke="#000" stroke-width="1.3"/>
<rect x="697.94" y="144.64" width="4.90" height="16.06" fill="#e01820" stroke="#1a0000" stroke-width="1.1"/>
<line x1="552.80" y1="56.30" x2="552.80" y2="161.30" stroke="#000" stroke-width="1.2"/>
<line x1="552.20" y1="160.70" x2="709.20" y2="160.70" stroke="#000" stroke-width="1.2"/>
<line x1="549.80" y1="160.70" x2="552.80" y2="160.70" stroke="#000" stroke-width="1.2"/>
<text x="548.20" y="163.80" font-size="9" font-weight="bold" text-anchor="end" fill="#000">0.0</text>
<line x1="549.80" y1="126.10" x2="552.80" y2="126.10" stroke="#000" stroke-width="1.2"/>
<text x="548.20" y="129.20" font-size="9" font-weight="bold" text-anchor="end" fill="#000">0.5</text>
<line x1="549.80" y1="91.50" x2="552.80" y2="91.50" stroke="#000" stroke-width="1.2"/>
<text x="548.20" y="94.60" font-size="9" font-weight="bold" text-anchor="end" fill="#000">1.0</text>
<line x1="549.80" y1="56.90" x2="552.80" y2="56.90" stroke="#000" stroke-width="1.2"/>
<text x="548.20" y="60.00" font-size="9" font-weight="bold" text-anchor="end" fill="#000">1.5</text>
<line x1="563.70" y1="160.70" x2="563.70" y2="163.70" stroke="#000" stroke-width="1.1"/>
<text x="566.20" y="169.40" font-size="8.2" font-weight="bold" text-anchor="end" fill="#000" transform="rotate(-45 566.20 169.40)">miR-5703</text>
<line x1="582.77" y1="160.70" x2="582.77" y2="163.70" stroke="#000" stroke-width="1.1"/>
<text x="585.27" y="169.40" font-size="8.2" font-weight="bold" text-anchor="end" fill="#000" transform="rotate(-45 585.27 169.40)">miR-4800-5p</text>
<line x1="601.84" y1="160.70" x2="601.84" y2="163.70" stroke="#000" stroke-width="1.1"/>
<text x="604.34" y="169.40" font-size="8.2" font-weight="bold" text-anchor="end" fill="#000" transform="rotate(-45 604.34 169.40)">miR-2276</text>
<line x1="620.91" y1="160.70" x2="620.91" y2="163.70" stroke="#000" stroke-width="1.1"/>
<text x="623.41" y="169.40" font-size="8.2" font-weight="bold" text-anchor="end" fill="#000" transform="rotate(-45 623.41 169.40)">miR-1273f</text>
<line x1="639.98" y1="160.70" x2="639.98" y2="163.70" stroke="#000" stroke-width="1.1"/>
<text x="642.48" y="169.40" font-size="8.2" font-weight="bold" text-anchor="end" fill="#000" transform="rotate(-45 642.48 169.40)">miR-3663-3p</text>
<line x1="659.05" y1="160.70" x2="659.05" y2="163.70" stroke="#000" stroke-width="1.1"/>
<text x="661.55" y="169.40" font-size="8.2" font-weight="bold" text-anchor="end" fill="#000" transform="rotate(-45 661.55 169.40)">miR-4745-5p</text>
<line x1="678.12" y1="160.70" x2="678.12" y2="163.70" stroke="#000" stroke-width="1.1"/>
<text x="680.62" y="169.40" font-size="8.2" font-weight="bold" text-anchor="end" fill="#000" transform="rotate(-45 680.62 169.40)">miR-4667-5p</text>
<line x1="697.19" y1="160.70" x2="697.19" y2="163.70" stroke="#000" stroke-width="1.1"/>
<text x="699.69" y="169.40" font-size="8.2" font-weight="bold" text-anchor="end" fill="#000" transform="rotate(-45 699.69 169.40)">miR-483-5p</text>
<text x="566.90" y="140.10" font-size="9" font-weight="bold" text-anchor="middle" fill="#000">*</text>
<text x="585.97" y="121.50" font-size="9" font-weight="bold" text-anchor="middle" fill="#000">*</text>
<text x="605.04" y="106.50" font-size="9" font-weight="bold" text-anchor="middle" fill="#000">*</text>
<text x="643.18" y="146.10" font-size="9" font-weight="bold" text-anchor="middle" fill="#000">*</text>
<text x="700.39" y="140.50" font-size="9" font-weight="bold" text-anchor="middle" fill="#000">*</text>
<rect x="559.40" y="53.00" width="10.60" height="5.00" fill="#000"/>
<rect x="560.00" y="63.10" width="9.40" height="3.80" fill="#e01820" stroke="#1a0000" stroke-width="1.2"/>
<text x="576.60" y="58.40" font-size="8.3" font-weight="normal" text-anchor="start" fill="#222">pH7.4</text>
<text x="576.60" y="67.90" font-size="8.3" font-weight="normal" text-anchor="start" fill="#222">pH6.6</text>
<text x="531.50" y="108.00" font-size="10" font-weight="bold" text-anchor="middle" fill="#000" transform="rotate(-90 531.50 108.00)">Fold change</text>
<text x="429.80" y="229.40" font-size="15" font-weight="bold" text-anchor="middle" fill="#000">MHCC97H</text>
<text x="429.80" y="245.00" font-size="14.5" font-weight="bold" text-anchor="middle" fill="#000">Up</text>
<line x1="371.40" y1="335.80" x2="371.40" y2="335.28" stroke="#000" stroke-width="1.2"/>
<line x1="369.70" y1="335.28" x2="373.10" y2="335.28" stroke="#000" stroke-width="1.3"/>
<rect x="368.50" y="335.80" width="5.80" height="26.00" fill="#000"/>
<line x1="377.60" y1="331.38" x2="377.60" y2="328.26" stroke="#000" stroke-width="1.2"/>
<line x1="375.90" y1="328.26" x2="379.30" y2="328.26" stroke="#000" stroke-width="1.3"/>
<rect x="375.25" y="331.93" width="4.70" height="29.87" fill="#e01820" stroke="#1a0000" stroke-width="1.1"/>
<line x1="390.60" y1="335.80" x2="390.60" y2="332.42" stroke="#000" stroke-width="1.2"/>
<line x1="388.90" y1="332.42" x2="392.30" y2="332.42" stroke="#000" stroke-width="1.3"/>
<rect x="387.70" y="335.80" width="5.80" height="26.00" fill="#000"/>
<line x1="396.80" y1="288.22" x2="396.80" y2="282.50" stroke="#000" stroke-width="1.2"/>
<line x1="395.10" y1="282.50" x2="398.50" y2="282.50" stroke="#000" stroke-width="1.3"/>
<rect x="394.45" y="288.77" width="4.70" height="73.03" fill="#e01820" stroke="#1a0000" stroke-width="1.1"/>
<line x1="409.80" y1="335.80" x2="409.80" y2="331.12" stroke="#000" stroke-width="1.2"/>
<line x1="408.10" y1="331.12" x2="411.50" y2="331.12" stroke="#000" stroke-width="1.3"/>
<rect x="406.90" y="335.80" width="5.80" height="26.00" fill="#000"/>
<line x1="416.00" y1="328.00" x2="416.00" y2="324.36" stroke="#000" stroke-width="1.2"/>
<line x1="414.30" y1="324.36" x2="417.70" y2="324.36" stroke="#000" stroke-width="1.3"/>
<rect x="413.65" y="328.55" width="4.70" height="33.25" fill="#e01820" stroke="#1a0000" stroke-width="1.1"/>
<line x1="429.00" y1="335.80" x2="429.00" y2="335.02" stroke="#000" stroke-width="1.2"/>
<line x1="427.30" y1="335.02" x2="430.70" y2="335.02" stroke="#000" stroke-width="1.3"/>
<rect x="426.10" y="335.80" width="5.80" height="26.00" fill="#000"/>
<line x1="435.20" y1="308.50" x2="435.20" y2="301.48" stroke="#000" stroke-width="1.2"/>
<line x1="433.50" y1="301.48" x2="436.90" y2="301.48" stroke="#000" stroke-width="1.3"/>
<rect x="432.85" y="309.05" width="4.70" height="52.75" fill="#e01820" stroke="#1a0000" stroke-width="1.1"/>
<line x1="448.20" y1="335.80" x2="448.20" y2="332.68" stroke="#000" stroke-width="1.2"/>
<line x1="446.50" y1="332.68" x2="449.90" y2="332.68" stroke="#000" stroke-width="1.3"/>
<rect x="445.30" y="335.80" width="5.80" height="26.00" fill="#000"/>
<line x1="454.40" y1="280.68" x2="454.40" y2="278.60" stroke="#000" stroke-width="1.2"/>
<line x1="452.70" y1="278.60" x2="456.10" y2="278.60" stroke="#000" stroke-width="1.3"/>
<rect x="452.05" y="281.23" width="4.70" height="80.57" fill="#e01820" stroke="#1a0000" stroke-width="1.1"/>
<line x1="467.40" y1="335.80" x2="467.40" y2="335.28" stroke="#000" stroke-width="1.2"/>
<line x1="465.70" y1="335.28" x2="469.10" y2="335.28" stroke="#000" stroke-width="1.3"/>
<rect x="464.50" y="335.80" width="5.80" height="26.00" fill="#000"/>
<line x1="473.60" y1="325.40" x2="473.60" y2="315.00" stroke="#000" stroke-width="1.2"/>
<line x1="471.90" y1="315.00" x2="475.30" y2="315.00" stroke="#000" stroke-width="1.3"/>
<rect x="471.25" y="325.95" width="4.70" height="35.85" fill="#e01820" stroke="#1a0000" stroke-width="1.1"/>
<line x1="486.60" y1="335.80" x2="486.60" y2="335.28" stroke="#000" stroke-width="1.2"/>
<line x1="484.90" y1="335.28" x2="488.30" y2="335.28" stroke="#000" stroke-width="1.3"/>
<rect x="483.70" y="335.80" width="5.80" height="26.00" fill="#000"/>
<line x1="492.80" y1="337.10" x2="492.80" y2="331.90" stroke="#000" stroke-width="1.2"/>
<line x1="491.10" y1="331.90" x2="494.50" y2="331.90" stroke="#000" stroke-width="1.3"/>
<rect x="490.45" y="337.65" width="4.70" height="24.15" fill="#e01820" stroke="#1a0000" stroke-width="1.1"/>
<line x1="505.80" y1="335.80" x2="505.80" y2="333.72" stroke="#000" stroke-width="1.2"/>
<line x1="504.10" y1="333.72" x2="507.50" y2="333.72" stroke="#000" stroke-width="1.3"/>
<rect x="502.90" y="335.80" width="5.80" height="26.00" fill="#000"/>
<line x1="512.00" y1="335.28" x2="512.00" y2="328.78" stroke="#000" stroke-width="1.2"/>
<line x1="510.30" y1="328.78" x2="513.70" y2="328.78" stroke="#000" stroke-width="1.3"/>
<rect x="509.65" y="335.83" width="4.70" height="25.97" fill="#e01820" stroke="#1a0000" stroke-width="1.1"/>
<line x1="363.80" y1="257.20" x2="363.80" y2="362.40" stroke="#000" stroke-width="1.2"/>
<line x1="363.20" y1="361.80" x2="518.80" y2="361.80" stroke="#000" stroke-width="1.2"/>
<line x1="360.80" y1="361.80" x2="363.80" y2="361.80" stroke="#000" stroke-width="1.2"/>
<text x="359.20" y="364.90" font-size="9" font-weight="bold" text-anchor="end" fill="#000">0</text>
<line x1="360.80" y1="335.80" x2="363.80" y2="335.80" stroke="#000" stroke-width="1.2"/>
<text x="359.20" y="338.90" font-size="9" font-weight="bold" text-anchor="end" fill="#000">1</text>
<line x1="360.80" y1="309.80" x2="363.80" y2="309.80" stroke="#000" stroke-width="1.2"/>
<text x="359.20" y="312.90" font-size="9" font-weight="bold" text-anchor="end" fill="#000">2</text>
<line x1="360.80" y1="283.80" x2="363.80" y2="283.80" stroke="#000" stroke-width="1.2"/>
<text x="359.20" y="286.90" font-size="9" font-weight="bold" text-anchor="end" fill="#000">3</text>
<line x1="360.80" y1="257.80" x2="363.80" y2="257.80" stroke="#000" stroke-width="1.2"/>
<text x="359.20" y="260.90" font-size="9" font-weight="bold" text-anchor="end" fill="#000">4</text>
<line x1="374.50" y1="361.80" x2="374.50" y2="364.80" stroke="#000" stroke-width="1.1"/>
<text x="377.00" y="370.50" font-size="8.2" font-weight="bold" text-anchor="end" fill="#000" transform="rotate(-45 377.00 370.50)">miR-1227-3p</text>
<line x1="393.70" y1="361.80" x2="393.70" y2="364.80" stroke="#000" stroke-width="1.1"/>
<text x="396.20" y="370.50" font-size="8.2" font-weight="bold" text-anchor="end" fill="#000" transform="rotate(-45 396.20 370.50)">miR-7-1-3p</text>
<line x1="412.90" y1="361.80" x2="412.90" y2="364.80" stroke="#000" stroke-width="1.1"/>
<text x="415.40" y="370.50" font-size="8.2" font-weight="bold" text-anchor="end" fill="#000" transform="rotate(-45 415.40 370.50)">miR-181c-5p</text>
<line x1="432.10" y1="361.80" x2="432.10" y2="364.80" stroke="#000" stroke-width="1.1"/>
<text x="434.60" y="370.50" font-size="8.2" font-weight="bold" text-anchor="end" fill="#000" transform="rotate(-45 434.60 370.50)">miR-203a</text>
<line x1="451.30" y1="361.80" x2="451.30" y2="364.80" stroke="#000" stroke-width="1.1"/>
<text x="453.80" y="370.50" font-size="8.2" font-weight="bold" text-anchor="end" fill="#000" transform="rotate(-45 453.80 370.50)">miR-652-3p</text>
<line x1="470.50" y1="361.80" x2="470.50" y2="364.80" stroke="#000" stroke-width="1.1"/>
<text x="473.00" y="370.50" font-size="8.2" font-weight="bold" text-anchor="end" fill="#000" transform="rotate(-45 473.00 370.50)">miR-4731-3p</text>
<line x1="489.70" y1="361.80" x2="489.70" y2="364.80" stroke="#000" stroke-width="1.1"/>
<text x="492.20" y="370.50" font-size="8.2" font-weight="bold" text-anchor="end" fill="#000" transform="rotate(-45 492.20 370.50)">miR-29b-1-5p</text>
<line x1="508.90" y1="361.80" x2="508.90" y2="364.80" stroke="#000" stroke-width="1.1"/>
<text x="511.40" y="370.50" font-size="8.2" font-weight="bold" text-anchor="end" fill="#000" transform="rotate(-45 511.40 370.50)">miR-629-3p</text>
<text x="396.80" y="280.40" font-size="9" font-weight="bold" text-anchor="middle" fill="#000">*</text>
<text x="454.40" y="277.30" font-size="9" font-weight="bold" text-anchor="middle" fill="#000">**</text>
<rect x="366.90" y="255.20" width="10.90" height="5.20" fill="#000"/>
<rect x="367.50" y="264.80" width="9.70" height="4.00" fill="#e01820" stroke="#1a0000" stroke-width="1.2"/>
<text x="384.30" y="260.70" font-size="8.3" font-weight="normal" text-anchor="start" fill="#222">pH7.4</text>
<text x="384.30" y="269.70" font-size="8.3" font-weight="normal" text-anchor="start" fill="#222">pH6.6</text>
<text x="349.00" y="308.50" font-size="10" font-weight="bold" text-anchor="middle" fill="#000" transform="rotate(-90 349.00 308.50)">Fold change</text>
<text x="631.00" y="222.50" font-size="15" font-weight="bold" text-anchor="middle" fill="#000">MHCC97H</text>
<text x="631.00" y="237.50" font-size="14.5" font-weight="bold" text-anchor="middle" fill="#000">Down</text>
<line x1="565.50" y1="294.10" x2="565.50" y2="293.41" stroke="#000" stroke-width="1.2"/>
<line x1="563.80" y1="293.41" x2="567.20" y2="293.41" stroke="#000" stroke-width="1.3"/>
<rect x="562.50" y="294.10" width="6.00" height="69.40" fill="#000"/>
<line x1="571.90" y1="302.43" x2="571.90" y2="299.65" stroke="#000" stroke-width="1.2"/>
<line x1="570.20" y1="299.65" x2="573.60" y2="299.65" stroke="#000" stroke-width="1.3"/>
<rect x="569.45" y="302.98" width="4.90" height="60.52" fill="#e01820" stroke="#1a0000" stroke-width="1.1"/>
<line x1="584.57" y1="294.10" x2="584.57" y2="292.02" stroke="#000" stroke-width="1.2"/>
<line x1="582.87" y1="292.02" x2="586.27" y2="292.02" stroke="#000" stroke-width="1.3"/>
<rect x="581.57" y="294.10" width="6.00" height="69.40" fill="#000"/>
<line x1="590.97" y1="305.20" x2="590.97" y2="297.57" stroke="#000" stroke-width="1.2"/>
<line x1="589.27" y1="297.57" x2="592.67" y2="297.57" stroke="#000" stroke-width="1.3"/>
<rect x="588.52" y="305.75" width="4.90" height="57.75" fill="#e01820" stroke="#1a0000" stroke-width="1.1"/>
<line x1="603.64" y1="294.10" x2="603.64" y2="292.71" stroke="#000" stroke-width="1.2"/>
<line x1="601.94" y1="292.71" x2="605.34" y2="292.71" stroke="#000" stroke-width="1.3"/>
<rect x="600.64" y="294.10" width="6.00" height="69.40" fill="#000"/>
<line x1="610.04" y1="277.44" x2="610.04" y2="272.59" stroke="#000" stroke-width="1.2"/>
<line x1="608.34" y1="272.59" x2="611.74" y2="272.59" stroke="#000" stroke-width="1.3"/>
<rect x="607.59" y="277.99" width="4.90" height="85.51" fill="#e01820" stroke="#1a0000" stroke-width="1.1"/>
<line x1="622.71" y1="294.10" x2="622.71" y2="276.06" stroke="#000" stroke-width="1.2"/>
<line x1="621.01" y1="276.06" x2="624.41" y2="276.06" stroke="#000" stroke-width="1.3"/>
<rect x="619.71" y="294.10" width="6.00" height="69.40" fill="#000"/>
<line x1="629.11" y1="300.35" x2="629.11" y2="294.79" stroke="#000" stroke-width="1.2"/>
<line x1="627.41" y1="294.79" x2="630.81" y2="294.79" stroke="#000" stroke-width="1.3"/>
<rect x="626.66" y="300.90" width="4.90" height="62.60" fill="#e01820" stroke="#1a0000" stroke-width="1.1"/>
<line x1="641.78" y1="294.10" x2="641.78" y2="292.02" stroke="#000" stroke-width="1.2"/>
<line x1="640.08" y1="292.02" x2="643.48" y2="292.02" stroke="#000" stroke-width="1.3"/>
<rect x="638.78" y="294.10" width="6.00" height="69.40" fill="#000"/>
<line x1="648.18" y1="354.48" x2="648.18" y2="353.09" stroke="#000" stroke-width="1.2"/>
<line x1="646.48" y1="353.09" x2="649.88" y2="353.09" stroke="#000" stroke-width="1.3"/>
<rect x="645.73" y="355.03" width="4.90" height="8.47" fill="#e01820" stroke="#1a0000" stroke-width="1.1"/>
<line x1="660.85" y1="294.10" x2="660.85" y2="292.02" stroke="#000" stroke-width="1.2"/>
<line x1="659.15" y1="292.02" x2="662.55" y2="292.02" stroke="#000" stroke-width="1.3"/>
<rect x="657.85" y="294.10" width="6.00" height="69.40" fill="#000"/>
<line x1="667.25" y1="301.73" x2="667.25" y2="298.96" stroke="#000" stroke-width="1.2"/>
<line x1="665.55" y1="298.96" x2="668.95" y2="298.96" stroke="#000" stroke-width="1.3"/>
<rect x="664.80" y="302.28" width="4.90" height="61.22" fill="#e01820" stroke="#1a0000" stroke-width="1.1"/>
<line x1="679.92" y1="294.10" x2="679.92" y2="292.71" stroke="#000" stroke-width="1.2"/>
<line x1="678.22" y1="292.71" x2="681.62" y2="292.71" stroke="#000" stroke-width="1.3"/>
<rect x="676.92" y="294.10" width="6.00" height="69.40" fill="#000"/>
<line x1="686.32" y1="306.59" x2="686.32" y2="301.73" stroke="#000" stroke-width="1.2"/>
<line x1="684.62" y1="301.73" x2="688.02" y2="301.73" stroke="#000" stroke-width="1.3"/>
<rect x="683.87" y="307.14" width="4.90" height="56.36" fill="#e01820" stroke="#1a0000" stroke-width="1.1"/>
<line x1="698.99" y1="294.10" x2="698.99" y2="285.77" stroke="#000" stroke-width="1.2"/>
<line x1="697.29" y1="285.77" x2="700.69" y2="285.77" stroke="#000" stroke-width="1.3"/>
<rect x="695.99" y="294.10" width="6.00" height="69.40" fill="#000"/>
<line x1="705.39" y1="331.58" x2="705.39" y2="330.88" stroke="#000" stroke-width="1.2"/>
<line x1="703.69" y1="330.88" x2="707.09" y2="330.88" stroke="#000" stroke-width="1.3"/>
<rect x="702.94" y="332.13" width="4.90" height="31.37" fill="#e01820" stroke="#1a0000" stroke-width="1.1"/>
<line x1="557.50" y1="258.80" x2="557.50" y2="364.10" stroke="#000" stroke-width="1.2"/>
<line x1="556.90" y1="363.50" x2="713.90" y2="363.50" stroke="#000" stroke-width="1.2"/>
<line x1="554.50" y1="363.50" x2="557.50" y2="363.50" stroke="#000" stroke-width="1.2"/>
<text x="552.90" y="366.60" font-size="9" font-weight="bold" text-anchor="end" fill="#000">0.0</text>
<line x1="554.50" y1="328.80" x2="557.50" y2="328.80" stroke="#000" stroke-width="1.2"/>
<text x="552.90" y="331.90" font-size="9" font-weight="bold" text-anchor="end" fill="#000">0.5</text>
<line x1="554.50" y1="294.10" x2="557.50" y2="294.10" stroke="#000" stroke-width="1.2"/>
<text x="552.90" y="297.20" font-size="9" font-weight="bold" text-anchor="end" fill="#000">1.0</text>
<line x1="554.50" y1="259.40" x2="557.50" y2="259.40" stroke="#000" stroke-width="1.2"/>
<text x="552.90" y="262.50" font-size="9" font-weight="bold" text-anchor="end" fill="#000">1.5</text>
<line x1="568.70" y1="363.50" x2="568.70" y2="366.50" stroke="#000" stroke-width="1.1"/>
<text x="571.20" y="372.20" font-size="8.2" font-weight="bold" text-anchor="end" fill="#000" transform="rotate(-45 571.20 372.20)">miR-5703</text>
<line x1="587.77" y1="363.50" x2="587.77" y2="366.50" stroke="#000" stroke-width="1.1"/>
<text x="590.27" y="372.20" font-size="8.2" font-weight="bold" text-anchor="end" fill="#000" transform="rotate(-45 590.27 372.20)">miR-4800-5p</text>
<line x1="606.84" y1="363.50" x2="606.84" y2="366.50" stroke="#000" stroke-width="1.1"/>
<text x="609.34" y="372.20" font-size="8.2" font-weight="bold" text-anchor="end" fill="#000" transform="rotate(-45 609.34 372.20)">miR-2276</text>
<line x1="625.91" y1="363.50" x2="625.91" y2="366.50" stroke="#000" stroke-width="1.1"/>
<text x="628.41" y="372.20" font-size="8.2" font-weight="bold" text-anchor="end" fill="#000" transform="rotate(-45 628.41 372.20)">miR-1273f</text>
<line x1="644.98" y1="363.50" x2="644.98" y2="366.50" stroke="#000" stroke-width="1.1"/>
<text x="647.48" y="372.20" font-size="8.2" font-weight="bold" text-anchor="end" fill="#000" transform="rotate(-45 647.48 372.20)">miR-3663-3p</text>
<line x1="664.05" y1="363.50" x2="664.05" y2="366.50" stroke="#000" stroke-width="1.1"/>
<text x="666.55" y="372.20" font-size="8.2" font-weight="bold" text-anchor="end" fill="#000" transform="rotate(-45 666.55 372.20)">miR-4745-5p</text>
<line x1="683.12" y1="363.50" x2="683.12" y2="366.50" stroke="#000" stroke-width="1.1"/>
<text x="685.62" y="372.20" font-size="8.2" font-weight="bold" text-anchor="end" fill="#000" transform="rotate(-45 685.62 372.20)">miR-4667-5p</text>
<line x1="702.19" y1="363.50" x2="702.19" y2="366.50" stroke="#000" stroke-width="1.1"/>
<text x="704.69" y="372.20" font-size="8.2" font-weight="bold" text-anchor="end" fill="#000" transform="rotate(-45 704.69 372.20)">miR-483-5p</text>
<text x="648.18" y="352.00" font-size="9" font-weight="bold" text-anchor="middle" fill="#000">**</text>
<text x="705.39" y="330.10" font-size="9" font-weight="bold" text-anchor="middle" fill="#000">*</text>
<rect x="564.70" y="256.30" width="11.00" height="5.20" fill="#000"/>
<rect x="565.30" y="266.30" width="9.80" height="4.00" fill="#e01820" stroke="#1a0000" stroke-width="1.2"/>
<text x="582.00" y="261.80" font-size="8.3" font-weight="normal" text-anchor="start" fill="#222">pH7.4</text>
<text x="582.00" y="271.20" font-size="8.3" font-weight="normal" text-anchor="start" fill="#222">pH6.6</text>
<text x="536.30" y="311.00" font-size="10" font-weight="bold" text-anchor="middle" fill="#000" transform="rotate(-90 536.30 311.00)">Fold change</text>
</g>
<g id="panelC">
<text x="4.90" y="486.60" font-size="30" font-weight="bold" text-anchor="start" fill="#000">C</text>
<text x="188.80" y="485.60" font-size="13.2" font-weight="bold" text-anchor="middle" fill="#000">SMMC7721-pH6.6</text>
<line x1="74.40" y1="491.30" x2="286.90" y2="491.30" stroke="#000" stroke-width="1.6"/>
<text x="92.00" y="541.00" font-size="8.7" font-weight="bold" text-anchor="start" fill="#000" font-family='"Liberation Serif", "Times New Roman", serif' transform="rotate(-40 92.00 541.00)">Anti-miR-NC</text>
<text x="116.00" y="540.60" font-size="8.7" font-weight="bold" text-anchor="start" fill="#000" font-family='"Liberation Serif", "Times New Roman", serif' transform="rotate(-40 116.00 540.60)">Anti-miR-7-1-3p</text>
<text x="144.00" y="541.00" font-size="8.7" font-weight="bold" text-anchor="start" fill="#000" font-family='"Liberation Serif", "Times New Roman", serif' transform="rotate(-40 144.00 541.00)">Anti-miR-203a</text>
<text x="170.80" y="539.20" font-size="8.7" font-weight="bold" text-anchor="start" fill="#000" font-family='"Liberation Serif", "Times New Roman", serif' transform="rotate(-40 170.80 539.20)">Anti-miR-652-3p</text>
<text x="217.20" y="541.40" font-size="8.7" font-weight="bold" text-anchor="start" fill="#000" font-family='"Liberation Serif", "Times New Roman", serif' transform="rotate(-40 217.20 541.40)">NC-mimic</text>
<text x="239.80" y="541.40" font-size="8.7" font-weight="bold" text-anchor="start" fill="#000" font-family='"Liberation Serif", "Times New Roman", serif' transform="rotate(-40 239.80 541.40)">miR-483-5pmimic</text>
<text x="266.80" y="543.60" font-size="8.7" font-weight="bold" text-anchor="start" fill="#000" font-family='"Liberation Serif", "Times New Roman", serif' transform="rotate(-40 266.80 543.60)">miR-3663-3p mimic</text>
<rect x="70.70" y="545.60" width="118.10" height="35.80" fill="#f7f7f7" stroke="#000" stroke-width="1.6"/>
<rect x="197.40" y="545.60" width="96.60" height="35.80" fill="#f7f7f7" stroke="#000" stroke-width="1.6"/>
<rect x="70.70" y="589.40" width="118.80" height="31.20" fill="#f7f7f7" stroke="#000" stroke-width="1.6"/>
<rect x="196.40" y="588.70" width="99.10" height="31.90" fill="#f7f7f7" stroke="#000" stroke-width="1.6"/>
<g clip-path="url(#cC1)">
<ellipse cx="94.7" cy="557.0" rx="9.0" ry="1.6" fill="#000" opacity="0.45" filter="url(#b1)"/>
<ellipse cx="94.7" cy="571.0" rx="9.5" ry="2.4" fill="#000" opacity="0.9" filter="url(#b1)"/>
<ellipse cx="118.5" cy="557.0" rx="9.0" ry="1.6" fill="#000" opacity="0.55" filter="url(#b1)"/>
<ellipse cx="118.5" cy="571.0" rx="9.5" ry="2.4" fill="#000" opacity="0.9" filter="url(#b1)"/>
<ellipse cx="145.0" cy="557.0" rx="9.0" ry="1.6" fill="#000" opacity="0.6" filter="url(#b1)"/>
<ellipse cx="145.0" cy="571.0" rx="9.5" ry="2.4" fill="#000" opacity="0.95" filter="url(#b1)"/>
<ellipse cx="170.4" cy="557.0" rx="9.0" ry="1.6" fill="#000" opacity="0.75" filter="url(#b1)"/>
<ellipse cx="170.4" cy="571.0" rx="9.5" ry="2.4" fill="#000" opacity="0.85" filter="url(#b1)"/>
<ellipse cx="219.0" cy="558.7" rx="9.0" ry="2.0" fill="#000" opacity="0.55" filter="url(#b1)"/>
<ellipse cx="219.0" cy="570.6" rx="9.5" ry="2.6" fill="#000" opacity="0.5" filter="url(#b1)"/>
<ellipse cx="241.0" cy="558.7" rx="9.5" ry="2.0" fill="#000" opacity="0.5" filter="url(#b1)"/>
<ellipse cx="241.0" cy="570.6" rx="10.0" ry="2.6" fill="#000" opacity="0.8" filter="url(#b1)"/>
<ellipse cx="266.0" cy="558.7" rx="10.0" ry="2.0" fill="#000" opacity="0.25" filter="url(#b1)"/>
<ellipse cx="266.0" cy="570.6" rx="10.5" ry="2.6" fill="#000" opacity="0.55" filter="url(#b1)"/>
<path d="M82.0 603.3 Q94.8 603.8 107.5 603.3 Q109.0 606.0 106.0 608.3 Q94.8 611.2 83.5 608.3 Q80.5 606.0 82.0 603.3Z" fill="#000" filter="url(#b07)"/>
<path d="M106.5 603.3 Q119.2 603.8 132.0 603.3 Q133.5 606.0 130.5 608.3 Q119.2 611.2 108.0 608.3 Q105.0 606.0 106.5 603.3Z" fill="#000" filter="url(#b07)"/>
<path d="M131.0 603.3 Q143.8 603.8 156.5 603.3 Q158.0 606.0 155.0 608.3 Q143.8 611.2 132.5 608.3 Q129.5 606.0 131.0 603.3Z" fill="#000" filter="url(#b07)"/>
<path d="M155.5 603.3 Q168.2 603.8 181.0 603.3 Q182.5 606.0 179.5 608.3 Q168.2 611.2 157.0 608.3 Q154.0 606.0 155.5 603.3Z" fill="#000" filter="url(#b07)"/>
<path d="M206.0 600.6 Q219.5 601.1 233.0 600.6 Q234.5 603.6 231.5 606.2 Q219.5 609.1 207.5 606.2 Q204.5 603.6 206.0 600.6Z" fill="#000" filter="url(#b07)"/>
<path d="M232.0 600.6 Q245.0 601.1 258.0 600.6 Q259.5 603.6 256.5 606.2 Q245.0 609.1 233.5 606.2 Q230.5 603.6 232.0 600.6Z" fill="#000" filter="url(#b07)"/>
<path d="M257.0 600.6 Q270.5 601.1 284.0 600.6 Q285.5 603.6 282.5 606.2 Q270.5 609.1 258.5 606.2 Q255.5 603.6 257.0 600.6Z" fill="#000" filter="url(#b07)"/>
</g>
<text x="31.60" y="561.60" font-size="10.4" font-weight="bold" text-anchor="start" fill="#000" textLength="25.6" lengthAdjust="spacingAndGlyphs">LC3-</text>
<text x="31.60" y="575.60" font-size="10.4" font-weight="bold" text-anchor="start" fill="#000" textLength="25.6" lengthAdjust="spacingAndGlyphs">LC3-</text>
<text x="58.20" y="561.60" font-size="10" font-weight="bold" text-anchor="start" fill="#000" font-family='"Liberation Serif", "Noto Serif CJK SC", serif'>Ⅰ</text>
<text x="57.60" y="575.60" font-size="10" font-weight="bold" text-anchor="start" fill="#000" font-family='"Liberation Serif", "Noto Serif CJK SC", serif'>Ⅱ</text>
<text x="28.00" y="609.20" font-size="10.4" font-weight="bold" text-anchor="start" fill="#000" textLength="36.8" lengthAdjust="spacingAndGlyphs">β-actin</text>
<text x="198.00" y="652.60" font-size="13.2" font-weight="bold" text-anchor="middle" fill="#000">MHCC97H-pH6.6</text>
<line x1="74.40" y1="657.90" x2="286.90" y2="657.90" stroke="#000" stroke-width="1.6"/>
<text x="92.00" y="710.60" font-size="8.7" font-weight="bold" text-anchor="start" fill="#000" font-family='"Liberation Serif", "Times New Roman", serif' transform="rotate(-40 92.00 710.60)">Anti-miR-NC</text>
<text x="116.00" y="710.20" font-size="8.7" font-weight="bold" text-anchor="start" fill="#000" font-family='"Liberation Serif", "Times New Roman", serif' transform="rotate(-40 116.00 710.20)">Anti-miR-7-1-3p</text>
<text x="144.00" y="710.60" font-size="8.7" font-weight="bold" text-anchor="start" fill="#000" font-family='"Liberation Serif", "Times New Roman", serif' transform="rotate(-40 144.00 710.60)">Anti-miR-203a</text>
<text x="170.80" y="708.80" font-size="8.7" font-weight="bold" text-anchor="start" fill="#000" font-family='"Liberation Serif", "Times New Roman", serif' transform="rotate(-40 170.80 708.80)">Anti-miR-652-3p</text>
<text x="217.20" y="711.00" font-size="8.7" font-weight="bold" text-anchor="start" fill="#000" font-family='"Liberation Serif", "Times New Roman", serif' transform="rotate(-40 217.20 711.00)">NC-mimic</text>
<text x="239.80" y="711.00" font-size="8.7" font-weight="bold" text-anchor="start" fill="#000" font-family='"Liberation Serif", "Times New Roman", serif' transform="rotate(-40 239.80 711.00)">miR-483-5pmimic</text>
<text x="266.80" y="713.20" font-size="8.7" font-weight="bold" text-anchor="start" fill="#000" font-family='"Liberation Serif", "Times New Roman", serif' transform="rotate(-40 266.80 713.20)">miR-3663-3p mimic</text>
<rect x="70.70" y="715.20" width="118.10" height="35.60" fill="#f7f7f7" stroke="#000" stroke-width="1.6"/>
<rect x="196.80" y="713.60" width="94.40" height="37.40" fill="#f7f7f7" stroke="#000" stroke-width="1.6"/>
<rect x="70.70" y="757.50" width="118.10" height="36.30" fill="#f7f7f7" stroke="#000" stroke-width="1.6"/>
<rect x="196.80" y="757.20" width="94.40" height="37.00" fill="#f7f7f7" stroke="#000" stroke-width="1.6"/>
<g clip-path="url(#cC2)">
<ellipse cx="93.0" cy="726.7" rx="10.0" ry="2.4" fill="#000" opacity="0.4" filter="url(#b15)"/>
<ellipse cx="93.0" cy="739.8" rx="10.5" ry="3.2" fill="#000" opacity="0.75" filter="url(#b15)"/>
<ellipse cx="118.6" cy="726.7" rx="10.0" ry="2.4" fill="#000" opacity="0.3" filter="url(#b15)"/>
<ellipse cx="118.6" cy="739.8" rx="10.5" ry="3.2" fill="#000" opacity="0.4" filter="url(#b15)"/>
<ellipse cx="143.0" cy="726.7" rx="10.0" ry="2.4" fill="#000" opacity="0.3" filter="url(#b15)"/>
<ellipse cx="143.0" cy="739.8" rx="10.5" ry="3.2" fill="#000" opacity="0.95" filter="url(#b15)"/>
<ellipse cx="168.0" cy="726.7" rx="10.0" ry="2.4" fill="#000" opacity="0.3" filter="url(#b15)"/>
<ellipse cx="168.0" cy="739.8" rx="10.5" ry="3.2" fill="#000" opacity="0.25" filter="url(#b15)"/>
<ellipse cx="143.0" cy="747.0" rx="8.0" ry="1.5" fill="#000" opacity="0.3" filter="url(#b15)"/>
<ellipse cx="220.0" cy="724.9" rx="11.0" ry="2.3" fill="#000" opacity="0.4" filter="url(#b15)"/>
<ellipse cx="220.0" cy="738.7" rx="11.5" ry="3.6" fill="#000" opacity="0.65" filter="url(#b15)"/>
<ellipse cx="243.0" cy="724.9" rx="10.0" ry="2.3" fill="#000" opacity="0.25" filter="url(#b15)"/>
<ellipse cx="243.0" cy="738.7" rx="10.5" ry="3.6" fill="#000" opacity="0.55" filter="url(#b15)"/>
<ellipse cx="271.0" cy="724.9" rx="12.0" ry="2.3" fill="#000" opacity="0.45" filter="url(#b15)"/>
<ellipse cx="271.0" cy="738.7" rx="12.5" ry="3.6" fill="#000" opacity="0.45" filter="url(#b15)"/>
<path d="M79.8 776.4 Q91.1 777.2 102.4 776.4 Q103.9 779.0 100.9 781.2 Q91.1 784.8 81.3 781.2 Q78.3 779.0 79.8 776.4Z" fill="#000" filter="url(#b07)"/>
<path d="M105.7 776.4 Q117.6 777.2 129.4 776.4 Q130.9 779.0 127.9 781.2 Q117.6 784.8 107.2 781.2 Q104.2 779.0 105.7 776.4Z" fill="#000" filter="url(#b07)"/>
<path d="M132.6 776.4 Q142.8 777.2 153.0 776.4 Q154.5 779.0 151.5 781.2 Q142.8 784.8 134.1 781.2 Q131.1 779.0 132.6 776.4Z" fill="#000" filter="url(#b07)"/>
<path d="M155.5 776.4 Q165.8 777.2 176.0 776.4 Q177.5 779.0 174.5 781.2 Q165.8 784.8 157.0 781.2 Q154.0 779.0 155.5 776.4Z" fill="#000" filter="url(#b07)"/>
<path d="M208.5 774.0 Q221.2 774.8 234.0 774.0 Q235.5 776.8 232.5 779.2 Q221.2 782.8 210.0 779.2 Q207.0 776.8 208.5 774.0Z" fill="#000" filter="url(#b07)"/>
<path d="M237.0 774.0 Q246.8 774.8 256.5 774.0 Q258.0 776.8 255.0 779.2 Q246.8 782.8 238.5 779.2 Q235.5 776.8 237.0 774.0Z" fill="#000" filter="url(#b07)"/>
<path d="M261.0 774.0 Q272.5 774.8 284.0 774.0 Q285.5 776.8 282.5 779.2 Q272.5 782.8 262.5 779.2 Q259.5 776.8 261.0 774.0Z" fill="#000" filter="url(#b07)"/>
</g>
<text x="33.40" y="732.40" font-size="10.4" font-weight="bold" text-anchor="start" fill="#000" textLength="25.6" lengthAdjust="spacingAndGlyphs">LC3-</text>
<text x="33.40" y="746.60" font-size="10.4" font-weight="bold" text-anchor="start" fill="#000" textLength="25.6" lengthAdjust="spacingAndGlyphs">LC3-</text>
<text x="60.00" y="732.40" font-size="10" font-weight="bold" text-anchor="start" fill="#000" font-family='"Liberation Serif", "Noto Serif CJK SC", serif'>Ⅰ</text>
<text x="59.40" y="746.60" font-size="10" font-weight="bold" text-anchor="start" fill="#000" font-family='"Liberation Serif", "Noto Serif CJK SC", serif'>Ⅱ</text>
<text x="24.80" y="780.60" font-size="10.4" font-weight="bold" text-anchor="start" fill="#000" textLength="37.7" lengthAdjust="spacingAndGlyphs">β-actin</text>
</g>
<g id="panelD">
<text x="320.00" y="483.70" font-size="30" font-weight="bold" text-anchor="start" fill="#000">D</text>
<text x="441.70" y="544.00" font-size="13.4" font-weight="bold" text-anchor="middle" fill="#000">pH6.6</text>
<line x1="382.80" y1="550.40" x2="501.50" y2="550.40" stroke="#000" stroke-width="1.6"/>
<text x="405.10" y="570.40" font-size="13.3" font-weight="bold" text-anchor="middle" fill="#000">SMMC7721</text>
<text x="488.40" y="569.90" font-size="13.4" font-weight="bold" text-anchor="middle" fill="#000">MHCC97H</text>
<text x="342.60" y="618.00" font-size="13" font-weight="bold" text-anchor="middle" fill="#000" transform="rotate(-90 342.60 618.00)">NC</text>
<text x="353.20" y="618.00" font-size="13" font-weight="bold" text-anchor="middle" fill="#000" transform="rotate(-90 353.20 618.00)">mimic</text>
<text x="342.60" y="699.50" font-size="13" font-weight="bold" text-anchor="middle" fill="#000" transform="rotate(-90 342.60 699.50)">miR-3663-3p</text>
<text x="353.20" y="699.50" font-size="13" font-weight="bold" text-anchor="middle" fill="#000" transform="rotate(-90 353.20 699.50)">mimic</text>
<rect x="359.40" y="573.00" width="83.50" height="82.30" fill="#020208"/>
<rect x="445.20" y="573.00" width="83.20" height="82.30" fill="#020208"/>
<rect x="359.40" y="658.30" width="83.50" height="83.00" fill="#020208"/>
<rect x="445.20" y="658.30" width="83.20" height="83.00" fill="#020208"/>
<g clip-path="url(#cTL)">
<g filter="url(#b25)">
<ellipse cx="401.9" cy="600.6" rx="6.0" ry="5.0" fill="#1fa01f" opacity="0.9" transform="rotate(0 401.9 600.6)"/>
<ellipse cx="392.4" cy="614.9" rx="5.0" ry="5.0" fill="#1fa01f" opacity="0.9" transform="rotate(0 392.4 614.9)"/>
<ellipse cx="401.9" cy="620.8" rx="4.0" ry="7.0" fill="#1fa01f" opacity="0.9" transform="rotate(0 401.9 620.8)"/>
<ellipse cx="409.0" cy="636.0" rx="6.0" ry="9.0" fill="#1fa01f" opacity="0.85" transform="rotate(0 409.0 636.0)"/>
<ellipse cx="378.0" cy="591.0" rx="6.0" ry="4.0" fill="#1fa01f" opacity="0.7" transform="rotate(-30 378.0 591.0)"/>
<ellipse cx="374.6" cy="613.7" rx="6.0" ry="4.0" fill="#1fa01f" opacity="0.7" transform="rotate(30 374.6 613.7)"/>
<ellipse cx="399.5" cy="651.7" rx="5.0" ry="3.0" fill="#1fa01f" opacity="0.9" transform="rotate(0 399.5 651.7)"/>
<ellipse cx="382.0" cy="628.0" rx="7.0" ry="5.0" fill="#1fa01f" opacity="0.6" transform="rotate(40 382.0 628.0)"/>
<ellipse cx="390.0" cy="606.0" rx="14.0" ry="12.0" fill="#1fa01f" opacity="0.35" transform="rotate(0 390.0 606.0)"/>
<ellipse cx="408.0" cy="598.0" rx="12.0" ry="8.0" fill="#1fa01f" opacity="0.4" transform="rotate(0 408.0 598.0)"/>
<ellipse cx="405.0" cy="630.0" rx="12.0" ry="16.0" fill="#1fa01f" opacity="0.35" transform="rotate(0 405.0 630.0)"/>
<ellipse cx="393.0" cy="640.0" rx="10.0" ry="10.0" fill="#1fa01f" opacity="0.3" transform="rotate(0 393.0 640.0)"/>
<ellipse cx="420.0" cy="640.0" rx="5.0" ry="9.0" fill="#1fa01f" opacity="0.5" transform="rotate(0 420.0 640.0)"/>
<ellipse cx="412.0" cy="588.0" rx="8.0" ry="4.0" fill="#1fa01f" opacity="0.5" transform="rotate(0 412.0 588.0)"/>
</g><g filter="url(#b12)">
<ellipse cx="371.0" cy="600.1" rx="5.3" ry="6.8" fill="#1212f0" transform="rotate(0 371.0 600.1)"/>
<ellipse cx="384.7" cy="603.0" rx="6.2" ry="5.6" fill="#1212f0" transform="rotate(0 384.7 603.0)"/>
<ellipse cx="393.6" cy="597.1" rx="6.8" ry="6.2" fill="#1212f0" transform="rotate(0 393.6 597.1)"/>
<ellipse cx="412.0" cy="594.1" rx="9.6" ry="7.3" fill="#1212f0" transform="rotate(0 412.0 594.1)"/>
<ellipse cx="418.5" cy="583.5" rx="6.8" ry="5.1" fill="#1212f0" transform="rotate(0 418.5 583.5)"/>
<ellipse cx="384.7" cy="615.5" rx="6.8" ry="6.2" fill="#1212f0" transform="rotate(0 384.7 615.5)"/>
<ellipse cx="394.8" cy="625.6" rx="6.8" ry="6.2" fill="#1212f0" transform="rotate(0 394.8 625.6)"/>
<ellipse cx="411.4" cy="623.2" rx="6.2" ry="7.3" fill="#1212f0" transform="rotate(15 411.4 623.2)"/>
<ellipse cx="388.2" cy="635.0" rx="7.9" ry="5.1" fill="#1212f0" transform="rotate(20 388.2 635.0)"/>
<ellipse cx="417.3" cy="640.4" rx="5.1" ry="8.5" fill="#1212f0" transform="rotate(0 417.3 640.4)"/>
<ellipse cx="395.4" cy="645.7" rx="6.2" ry="5.6" fill="#1212f0" transform="rotate(0 395.4 645.7)"/>
<ellipse cx="392.6" cy="614.6" rx="2.2" ry="2.6" fill="#38d838" opacity="0.95" transform="rotate(0 392.6 614.6)"/>
<ellipse cx="402.2" cy="601.0" rx="3.0" ry="2.2" fill="#38d838" opacity="0.9" transform="rotate(0 402.2 601.0)"/>
<ellipse cx="402.0" cy="621.0" rx="1.8" ry="3.5" fill="#38d838" opacity="0.85" transform="rotate(0 402.0 621.0)"/>
<ellipse cx="378.5" cy="592.0" rx="2.5" ry="1.6" fill="#38d838" opacity="0.7" transform="rotate(-30 378.5 592.0)"/>
<ellipse cx="409.0" cy="634.0" rx="2.0" ry="4.0" fill="#38d838" opacity="0.6" transform="rotate(0 409.0 634.0)"/>
<ellipse cx="399.8" cy="652.0" rx="3.0" ry="1.6" fill="#38d838" opacity="0.8" transform="rotate(0 399.8 652.0)"/>
</g><g filter="url(#b05)">
<g transform="translate(372.2 584.6) rotate(45)" stroke="#dc3038" stroke-width="1.3" fill="none" stroke-linecap="round"><path d="M-2.6 0H2.6M0.2 -2.2L2.8 0L0.2 2.2"/></g>
<g transform="translate(396.0 587.6) rotate(45)" stroke="#dc3038" stroke-width="1.3" fill="none" stroke-linecap="round"><path d="M-2.6 0H2.6M0.2 -2.2L2.8 0L0.2 2.2"/></g>
<g transform="translate(403.0 582.3) rotate(45)" stroke="#dc3038" stroke-width="1.3" fill="none" stroke-linecap="round"><path d="M-2.6 0H2.6M0.2 -2.2L2.8 0L0.2 2.2"/></g>
<g transform="translate(397.7 597.0) rotate(45)" stroke="#dc3038" stroke-width="1.3" fill="none" stroke-linecap="round"><path d="M-2.6 0H2.6M0.2 -2.2L2.8 0L0.2 2.2"/></g>
<g transform="translate(389.4 609.6) rotate(45)" stroke="#dc3038" stroke-width="1.3" fill="none" stroke-linecap="round"><path d="M-2.6 0H2.6M0.2 -2.2L2.8 0L0.2 2.2"/></g>
<g transform="translate(397.0 616.7) rotate(45)" stroke="#dc3038" stroke-width="1.3" fill="none" stroke-linecap="round"><path d="M-2.6 0H2.6M0.2 -2.2L2.8 0L0.2 2.2"/></g>
<g transform="translate(397.0 644.5) rotate(45)" stroke="#dc3038" stroke-width="1.3" fill="none" stroke-linecap="round"><path d="M-2.6 0H2.6M0.2 -2.2L2.8 0L0.2 2.2"/></g>
</g>
<rect x="362.20" y="576.00" width="10.00" height="1.90" fill="#fff"/>
</g>
<g clip-path="url(#cTR)">
<g filter="url(#b18)">
<ellipse cx="448.3" cy="587.6" rx="4.0" ry="7.0" fill="#1fa01f" opacity="0.9" transform="rotate(0 448.3 587.6)"/>
<ellipse cx="482.0" cy="588.8" rx="9.0" ry="5.0" fill="#1fa01f" opacity="0.9" transform="rotate(20 482.0 588.8)"/>
<ellipse cx="464.4" cy="594.7" rx="10.0" ry="6.0" fill="#1fa01f" opacity="0.8" transform="rotate(10 464.4 594.7)"/>
<ellipse cx="481.0" cy="613.7" rx="8.0" ry="9.0" fill="#1fa01f" opacity="0.9" transform="rotate(0 481.0 613.7)"/>
<ellipse cx="501.0" cy="613.7" rx="5.0" ry="7.0" fill="#1fa01f" opacity="0.9" transform="rotate(0 501.0 613.7)"/>
<ellipse cx="510.6" cy="606.6" rx="3.0" ry="3.0" fill="#1fa01f" opacity="0.8" transform="rotate(0 510.6 606.6)"/>
<ellipse cx="521.3" cy="605.4" rx="5.0" ry="7.0" fill="#1fa01f" opacity="0.85" transform="rotate(20 521.3 605.4)"/>
<ellipse cx="466.7" cy="624.4" rx="14.0" ry="7.0" fill="#1fa01f" opacity="0.85" transform="rotate(25 466.7 624.4)"/>
<ellipse cx="516.5" cy="625.6" rx="10.0" ry="7.0" fill="#1fa01f" opacity="0.8" transform="rotate(-10 516.5 625.6)"/>
<ellipse cx="504.7" cy="641.0" rx="12.0" ry="8.0" fill="#1fa01f" opacity="0.85" transform="rotate(10 504.7 641.0)"/>
<ellipse cx="520.0" cy="651.7" rx="8.0" ry="4.0" fill="#1fa01f" opacity="0.8" transform="rotate(0 520.0 651.7)"/>
<ellipse cx="450.0" cy="605.4" rx="6.0" ry="6.0" fill="#1fa01f" opacity="0.8" transform="rotate(0 450.0 605.4)"/>
<ellipse cx="470.0" cy="590.0" rx="6.0" ry="3.0" fill="#1fa01f" opacity="0.6" transform="rotate(30 470.0 590.0)"/>
<ellipse cx="498.0" cy="648.0" rx="8.0" ry="5.0" fill="#1fa01f" opacity="0.6" transform="rotate(30 498.0 648.0)"/>
</g><g filter="url(#b12)">
<ellipse cx="447.7" cy="597.1" rx="3.6" ry="4.6" fill="#1030f0" transform="rotate(0 447.7 597.1)"/>
<ellipse cx="454.9" cy="604.8" rx="4.1" ry="4.1" fill="#1030f0" transform="rotate(0 454.9 604.8)"/>
<ellipse cx="457.8" cy="610.7" rx="3.1" ry="3.1" fill="#1030f0" transform="rotate(0 457.8 610.7)"/>
<ellipse cx="469.1" cy="595.3" rx="5.2" ry="4.1" fill="#1030f0" transform="rotate(0 469.1 595.3)"/>
<ellipse cx="483.3" cy="592.4" rx="5.2" ry="3.6" fill="#1030f0" transform="rotate(-20 483.3 592.4)"/>
<ellipse cx="477.4" cy="616.7" rx="5.2" ry="4.6" fill="#1030f0" transform="rotate(0 477.4 616.7)"/>
<ellipse cx="470.9" cy="627.9" rx="6.8" ry="4.1" fill="#1030f0" transform="rotate(15 470.9 627.9)"/>
<ellipse cx="489.9" cy="639.2" rx="4.1" ry="4.1" fill="#1030f0" transform="rotate(0 489.9 639.2)"/>
<ellipse cx="499.9" cy="638.0" rx="5.2" ry="5.2" fill="#1030f0" transform="rotate(0 499.9 638.0)"/>
<ellipse cx="520.7" cy="623.2" rx="5.2" ry="4.6" fill="#1030f0" transform="rotate(0 520.7 623.2)"/>
<ellipse cx="521.3" cy="642.2" rx="4.6" ry="4.1" fill="#1030f0" transform="rotate(0 521.3 642.2)"/>
</g><g filter="url(#b05)">
<g transform="translate(478.6 584.0) rotate(45)" stroke="#dc3038" stroke-width="1.3" fill="none" stroke-linecap="round"><path d="M-2.6 0H2.6M0.2 -2.2L2.8 0L0.2 2.2"/></g>
<g transform="translate(464.4 596.0) rotate(45)" stroke="#dc3038" stroke-width="1.3" fill="none" stroke-linecap="round"><path d="M-2.6 0H2.6M0.2 -2.2L2.8 0L0.2 2.2"/></g>
<g transform="translate(475.6 603.0) rotate(45)" stroke="#dc3038" stroke-width="1.3" fill="none" stroke-linecap="round"><path d="M-2.6 0H2.6M0.2 -2.2L2.8 0L0.2 2.2"/></g>
<g transform="translate(463.8 615.5) rotate(45)" stroke="#dc3038" stroke-width="1.3" fill="none" stroke-linecap="round"><path d="M-2.6 0H2.6M0.2 -2.2L2.8 0L0.2 2.2"/></g>
<g transform="translate(510.0 617.9) rotate(45)" stroke="#dc3038" stroke-width="1.3" fill="none" stroke-linecap="round"><path d="M-2.6 0H2.6M0.2 -2.2L2.8 0L0.2 2.2"/></g>
<g transform="translate(503.5 630.3) rotate(45)" stroke="#dc3038" stroke-width="1.3" fill="none" stroke-linecap="round"><path d="M-2.6 0H2.6M0.2 -2.2L2.8 0L0.2 2.2"/></g>
</g>
<rect x="446.00" y="576.00" width="10.00" height="2.00" fill="#fff"/>
</g>
<g clip-path="url(#cBL)">
<g filter="url(#b25)">
<ellipse cx="380.0" cy="690.0" rx="10.0" ry="16.0" fill="#1fa01f" opacity="0.18" transform="rotate(0 380.0 690.0)"/>
<ellipse cx="395.0" cy="715.0" rx="12.0" ry="16.0" fill="#1fa01f" opacity="0.18" transform="rotate(0 395.0 715.0)"/>
<ellipse cx="412.0" cy="695.0" rx="12.0" ry="12.0" fill="#1fa01f" opacity="0.18" transform="rotate(0 412.0 695.0)"/>
<ellipse cx="399.0" cy="676.0" rx="8.0" ry="8.0" fill="#1fa01f" opacity="0.25" transform="rotate(0 399.0 676.0)"/>
</g><g filter="url(#b12)">
<ellipse cx="378.8" cy="680.9" rx="7.3" ry="7.9" fill="#1212f0" transform="rotate(0 378.8 680.9)"/>
<ellipse cx="377.0" cy="695.7" rx="7.3" ry="8.5" fill="#1212f0" transform="rotate(0 377.0 695.7)"/>
<ellipse cx="398.3" cy="673.8" rx="7.9" ry="6.8" fill="#1212f0" transform="rotate(0 398.3 673.8)"/>
<ellipse cx="410.2" cy="688.6" rx="8.5" ry="7.3" fill="#1212f0" transform="rotate(0 410.2 688.6)"/>
<ellipse cx="414.9" cy="696.3" rx="9.0" ry="7.9" fill="#1212f0" transform="rotate(0 414.9 696.3)"/>
<ellipse cx="432.1" cy="687.4" rx="5.6" ry="8.5" fill="#1212f0" transform="rotate(-10 432.1 687.4)"/>
<ellipse cx="391.2" cy="711.8" rx="7.9" ry="9.6" fill="#1212f0" transform="rotate(20 391.2 711.8)"/>
<ellipse cx="397.1" cy="728.4" rx="9.6" ry="7.3" fill="#1212f0" transform="rotate(-20 397.1 728.4)"/>
<ellipse cx="441.6" cy="682.0" rx="2.3" ry="4.5" fill="#1212f0" transform="rotate(0 441.6 682.0)"/>
<ellipse cx="402.5" cy="676.2" rx="1.8" ry="1.5" fill="#30c030" opacity="0.9" transform="rotate(0 402.5 676.2)"/>
<ellipse cx="405.5" cy="697.5" rx="1.6" ry="1.6" fill="#30c030" opacity="0.9" transform="rotate(0 405.5 697.5)"/>
<ellipse cx="380.0" cy="673.8" rx="1.8" ry="1.2" fill="#30c030" opacity="0.8" transform="rotate(0 380.0 673.8)"/>
<ellipse cx="436.5" cy="686.5" rx="1.0" ry="1.5" fill="#30c030" opacity="0.8" transform="rotate(0 436.5 686.5)"/>
</g><g filter="url(#b05)">
<g transform="translate(397.1 671.4) rotate(45)" stroke="#dc3038" stroke-width="1.3" fill="none" stroke-linecap="round"><path d="M-2.6 0H2.6M0.2 -2.2L2.8 0L0.2 2.2"/></g>
</g></g>
<g clip-path="url(#cBR)">
<g filter="url(#b12)">
<ellipse cx="460.2" cy="669.6" rx="6.2" ry="5.6" fill="#1818f4" transform="rotate(0 460.2 669.6)"/>
<ellipse cx="486.3" cy="664.3" rx="5.6" ry="5.1" fill="#1818f4" transform="rotate(0 486.3 664.3)"/>
<ellipse cx="487.5" cy="673.8" rx="6.8" ry="5.6" fill="#1818f4" transform="rotate(0 487.5 673.8)"/>
<ellipse cx="482.1" cy="685.1" rx="6.2" ry="6.2" fill="#1818f4" transform="rotate(0 482.1 685.1)"/>
<ellipse cx="495.8" cy="687.4" rx="6.8" ry="6.2" fill="#1818f4" transform="rotate(0 495.8 687.4)"/>
<ellipse cx="508.8" cy="691.0" rx="5.6" ry="5.1" fill="#1818f4" transform="rotate(0 508.8 691.0)"/>
<ellipse cx="502.3" cy="701.7" rx="6.2" ry="6.2" fill="#1818f4" transform="rotate(0 502.3 701.7)"/>
<ellipse cx="485.1" cy="706.4" rx="6.2" ry="5.1" fill="#1818f4" transform="rotate(0 485.1 706.4)"/>
<ellipse cx="499.3" cy="715.9" rx="6.8" ry="6.8" fill="#1818f4" transform="rotate(0 499.3 715.9)"/>
<ellipse cx="479.8" cy="717.7" rx="6.2" ry="5.6" fill="#1818f4" transform="rotate(0 479.8 717.7)"/>
<ellipse cx="474.4" cy="729.0" rx="6.2" ry="6.2" fill="#1818f4" transform="rotate(30 474.4 729.0)"/>
<ellipse cx="488.1" cy="734.3" rx="7.3" ry="5.6" fill="#1818f4" transform="rotate(0 488.1 734.3)"/>
<ellipse cx="499.9" cy="730.1" rx="5.6" ry="6.2" fill="#1818f4" transform="rotate(0 499.9 730.1)"/>
<ellipse cx="518.9" cy="663.7" rx="4.0" ry="4.5" fill="#1818f4" transform="rotate(0 518.9 663.7)"/>
<ellipse cx="471.5" cy="659.6" rx="3.4" ry="2.3" fill="#1818f4" transform="rotate(0 471.5 659.6)"/>
<ellipse cx="511.8" cy="660.7" rx="2.8" ry="2.8" fill="#1818f4" transform="rotate(0 511.8 660.7)"/>
</g></g>
<circle cx="360" cy="760" r="4.8" fill="#58b048"/>
<circle cx="417.3" cy="760" r="5" fill="#3068d8"/>
<text x="373.50" y="764.80" font-size="13" font-weight="bold" text-anchor="start" fill="#111">LC3</text>
<text x="427.30" y="764.60" font-size="13" font-weight="bold" text-anchor="start" fill="#111">DAPI</text>
</g>
<g id="panelE">
<text x="526.00" y="483.70" font-size="30" font-weight="bold" text-anchor="start" fill="#000">E</text>
<rect x="603.40" y="471.50" width="9.20" height="4.80" fill="#000"/>
<text x="616.80" y="476.80" font-size="8.1" font-weight="normal" text-anchor="start" fill="#222">pH7.4</text>
<rect x="603.90" y="480.10" width="8.20" height="3.80" fill="#fe0606" stroke="#000" stroke-width="1"/>
<text x="616.80" y="484.90" font-size="8.1" font-weight="normal" text-anchor="start" fill="#222">pH6.6</text>
<rect x="603.90" y="488.10" width="8.20" height="3.80" fill="#808080" stroke="#000" stroke-width="1"/>
<text x="616.80" y="492.90" font-size="8.1" font-weight="normal" text-anchor="start" fill="#222">pH6.6+NC mimic</text>
<rect x="603.90" y="496.20" width="8.20" height="3.80" fill="#606060" stroke="#000" stroke-width="1"/>
<text x="616.80" y="501.00" font-size="8.1" font-weight="normal" text-anchor="start" fill="#222">pH6.6+miR-3663-3p mimic</text>
<line x1="612.85" y1="564.50" x2="612.85" y2="562.68" stroke="#000" stroke-width="1.2"/>
<line x1="607.85" y1="562.68" x2="617.85" y2="562.68" stroke="#000" stroke-width="1.2"/>
<rect x="602.10" y="564.50" width="21.50" height="45.50" fill="#000"/>
<line x1="612.85" y1="610.00" x2="612.85" y2="613.00" stroke="#000" stroke-width="1.1"/>
<line x1="645.15" y1="588.16" x2="645.15" y2="585.43" stroke="#000" stroke-width="1.2"/>
<line x1="640.15" y1="585.43" x2="650.15" y2="585.43" stroke="#000" stroke-width="1.2"/>
<rect x="635.20" y="588.86" width="19.90" height="21.14" fill="#fe0606" stroke="#111" stroke-width="1.4"/>
<line x1="645.15" y1="610.00" x2="645.15" y2="613.00" stroke="#000" stroke-width="1.1"/>
<line x1="677.35" y1="585.43" x2="677.35" y2="581.79" stroke="#000" stroke-width="1.2"/>
<line x1="672.35" y1="581.79" x2="682.35" y2="581.79" stroke="#000" stroke-width="1.2"/>
<rect x="667.40" y="586.13" width="19.90" height="23.87" fill="#808080" stroke="#111" stroke-width="1.4"/>
<line x1="677.35" y1="610.00" x2="677.35" y2="613.00" stroke="#000" stroke-width="1.1"/>
<line x1="709.55" y1="546.30" x2="709.55" y2="536.29" stroke="#000" stroke-width="1.2"/>
<line x1="704.55" y1="536.29" x2="714.55" y2="536.29" stroke="#000" stroke-width="1.2"/>
<rect x="699.50" y="547.00" width="20.10" height="63.00" fill="#606060" stroke="#111" stroke-width="1.4"/>
<line x1="709.55" y1="610.00" x2="709.55" y2="613.00" stroke="#000" stroke-width="1.1"/>
<line x1="596.40" y1="518.40" x2="596.40" y2="610.60" stroke="#000" stroke-width="1.3"/>
<line x1="595.80" y1="610.00" x2="725.20" y2="610.00" stroke="#000" stroke-width="1.3"/>
<line x1="593.20" y1="610.00" x2="596.40" y2="610.00" stroke="#000" stroke-width="1.2"/>
<text x="591.80" y="613.10" font-size="8.9" font-weight="bold" text-anchor="end" fill="#000">0</text>
<line x1="593.20" y1="587.25" x2="596.40" y2="587.25" stroke="#000" stroke-width="1.2"/>
<text x="591.80" y="590.35" font-size="8.9" font-weight="bold" text-anchor="end" fill="#000">50</text>
<line x1="593.20" y1="564.50" x2="596.40" y2="564.50" stroke="#000" stroke-width="1.2"/>
<text x="591.80" y="567.60" font-size="8.9" font-weight="bold" text-anchor="end" fill="#000">100</text>
<line x1="593.20" y1="541.75" x2="596.40" y2="541.75" stroke="#000" stroke-width="1.2"/>
<text x="591.80" y="544.85" font-size="8.9" font-weight="bold" text-anchor="end" fill="#000">150</text>
<line x1="593.20" y1="519.00" x2="596.40" y2="519.00" stroke="#000" stroke-width="1.2"/>
<text x="591.80" y="522.10" font-size="8.9" font-weight="bold" text-anchor="end" fill="#000">200</text>
<line x1="611.40" y1="549.80" x2="644.40" y2="549.80" stroke="#000" stroke-width="1.7"/>
<text x="628.50" y="547.90" font-size="11" font-weight="bold" text-anchor="middle" fill="#000" letter-spacing="1.3">**</text>
<line x1="644.40" y1="517.60" x2="709.50" y2="517.60" stroke="#000" stroke-width="1.7"/>
<text x="673.30" y="516.20" font-size="11" font-weight="bold" text-anchor="middle" fill="#000" letter-spacing="1.3">*</text>
<line x1="676.80" y1="528.50" x2="709.50" y2="528.50" stroke="#000" stroke-width="1.7"/>
<text x="690.50" y="528.80" font-size="11" font-weight="bold" text-anchor="middle" fill="#000" letter-spacing="1.3">*</text>
<text x="575.20" y="562.00" font-size="8.2" font-weight="bold" text-anchor="middle" fill="#000" transform="rotate(-90 575.20 562.00)" letter-spacing="0.3">Relative Caspase 3/7 Activity(%)</text>
<text x="659.50" y="629.80" font-size="14.3" font-weight="bold" text-anchor="middle" fill="#000">SMMC7721</text>
<rect x="603.20" y="649.20" width="9.80" height="5.20" fill="#000"/>
<text x="618.40" y="654.70" font-size="8.8" font-weight="normal" text-anchor="start" fill="#222">pH7.4</text>
<rect x="603.70" y="657.50" width="8.80" height="4.20" fill="#fe0606" stroke="#000" stroke-width="1"/>
<text x="618.40" y="662.50" font-size="8.8" font-weight="normal" text-anchor="start" fill="#222">pH6.6</text>
<rect x="603.70" y="665.60" width="8.80" height="4.20" fill="#808080" stroke="#000" stroke-width="1"/>
<text x="618.40" y="670.60" font-size="8.8" font-weight="normal" text-anchor="start" fill="#222">pH6.6+NC mimic</text>
<rect x="603.70" y="673.90" width="8.80" height="4.20" fill="#606060" stroke="#000" stroke-width="1"/>
<text x="618.40" y="678.90" font-size="8.8" font-weight="normal" text-anchor="start" fill="#222">pH6.6+miR-3663-3p mimic</text>
<line x1="613.55" y1="744.95" x2="613.55" y2="742.61" stroke="#000" stroke-width="1.2"/>
<line x1="608.55" y1="742.61" x2="618.55" y2="742.61" stroke="#000" stroke-width="1.2"/>
<rect x="602.10" y="744.95" width="22.90" height="46.85" fill="#000"/>
<line x1="613.55" y1="791.80" x2="613.55" y2="794.80" stroke="#000" stroke-width="1.1"/>
<line x1="648.60" y1="762.28" x2="648.60" y2="759.94" stroke="#000" stroke-width="1.2"/>
<line x1="643.60" y1="759.94" x2="653.60" y2="759.94" stroke="#000" stroke-width="1.2"/>
<rect x="637.90" y="762.98" width="21.40" height="28.82" fill="#fe0606" stroke="#111" stroke-width="1.4"/>
<line x1="648.60" y1="791.80" x2="648.60" y2="794.80" stroke="#000" stroke-width="1.1"/>
<line x1="683.75" y1="758.07" x2="683.75" y2="755.73" stroke="#000" stroke-width="1.2"/>
<line x1="678.75" y1="755.73" x2="688.75" y2="755.73" stroke="#000" stroke-width="1.2"/>
<rect x="673.00" y="758.77" width="21.50" height="33.03" fill="#808080" stroke="#111" stroke-width="1.4"/>
<line x1="683.75" y1="791.80" x2="683.75" y2="794.80" stroke="#000" stroke-width="1.1"/>
<line x1="718.85" y1="726.21" x2="718.85" y2="721.06" stroke="#000" stroke-width="1.2"/>
<line x1="713.85" y1="721.06" x2="723.85" y2="721.06" stroke="#000" stroke-width="1.2"/>
<rect x="708.10" y="726.91" width="21.50" height="64.89" fill="#606060" stroke="#111" stroke-width="1.4"/>
<line x1="718.85" y1="791.80" x2="718.85" y2="794.80" stroke="#000" stroke-width="1.1"/>
<line x1="594.50" y1="697.50" x2="594.50" y2="792.40" stroke="#000" stroke-width="1.3"/>
<line x1="593.90" y1="791.80" x2="736.20" y2="791.80" stroke="#000" stroke-width="1.3"/>
<line x1="591.30" y1="791.80" x2="594.50" y2="791.80" stroke="#000" stroke-width="1.2"/>
<text x="589.90" y="794.90" font-size="8.9" font-weight="bold" text-anchor="end" fill="#000">0</text>
<line x1="591.30" y1="768.38" x2="594.50" y2="768.38" stroke="#000" stroke-width="1.2"/>
<text x="589.90" y="771.48" font-size="8.9" font-weight="bold" text-anchor="end" fill="#000">50</text>
<line x1="591.30" y1="744.95" x2="594.50" y2="744.95" stroke="#000" stroke-width="1.2"/>
<text x="589.90" y="748.05" font-size="8.9" font-weight="bold" text-anchor="end" fill="#000">100</text>
<line x1="591.30" y1="721.52" x2="594.50" y2="721.52" stroke="#000" stroke-width="1.2"/>
<text x="589.90" y="724.62" font-size="8.9" font-weight="bold" text-anchor="end" fill="#000">150</text>
<line x1="591.30" y1="698.10" x2="594.50" y2="698.10" stroke="#000" stroke-width="1.2"/>
<text x="589.90" y="701.20" font-size="8.9" font-weight="bold" text-anchor="end" fill="#000">200</text>
<line x1="613.00" y1="729.70" x2="648.10" y2="729.70" stroke="#000" stroke-width="1.7"/>
<text x="631.15" y="727.60" font-size="11" font-weight="bold" text-anchor="middle" fill="#000" letter-spacing="1.3">**</text>
<line x1="648.10" y1="696.20" x2="718.30" y2="696.20" stroke="#000" stroke-width="1.7"/>
<text x="683.80" y="694.80" font-size="11" font-weight="bold" text-anchor="middle" fill="#000" letter-spacing="1.3">**</text>
<line x1="683.50" y1="708.00" x2="718.30" y2="708.00" stroke="#000" stroke-width="1.7"/>
<text x="701.50" y="706.80" font-size="11" font-weight="bold" text-anchor="middle" fill="#000" letter-spacing="1.3">**</text>
<text x="570.80" y="742.80" font-size="8.4" font-weight="bold" text-anchor="middle" fill="#000" transform="rotate(-90 570.80 742.80)" letter-spacing="0.3">Relative Caspase 3/7 Activity(%)</text>
<text x="666.00" y="813.30" font-size="14.4" font-weight="bold" text-anchor="middle" fill="#000">MHCC97H</text>
</g>
</svg>
</body></html>
